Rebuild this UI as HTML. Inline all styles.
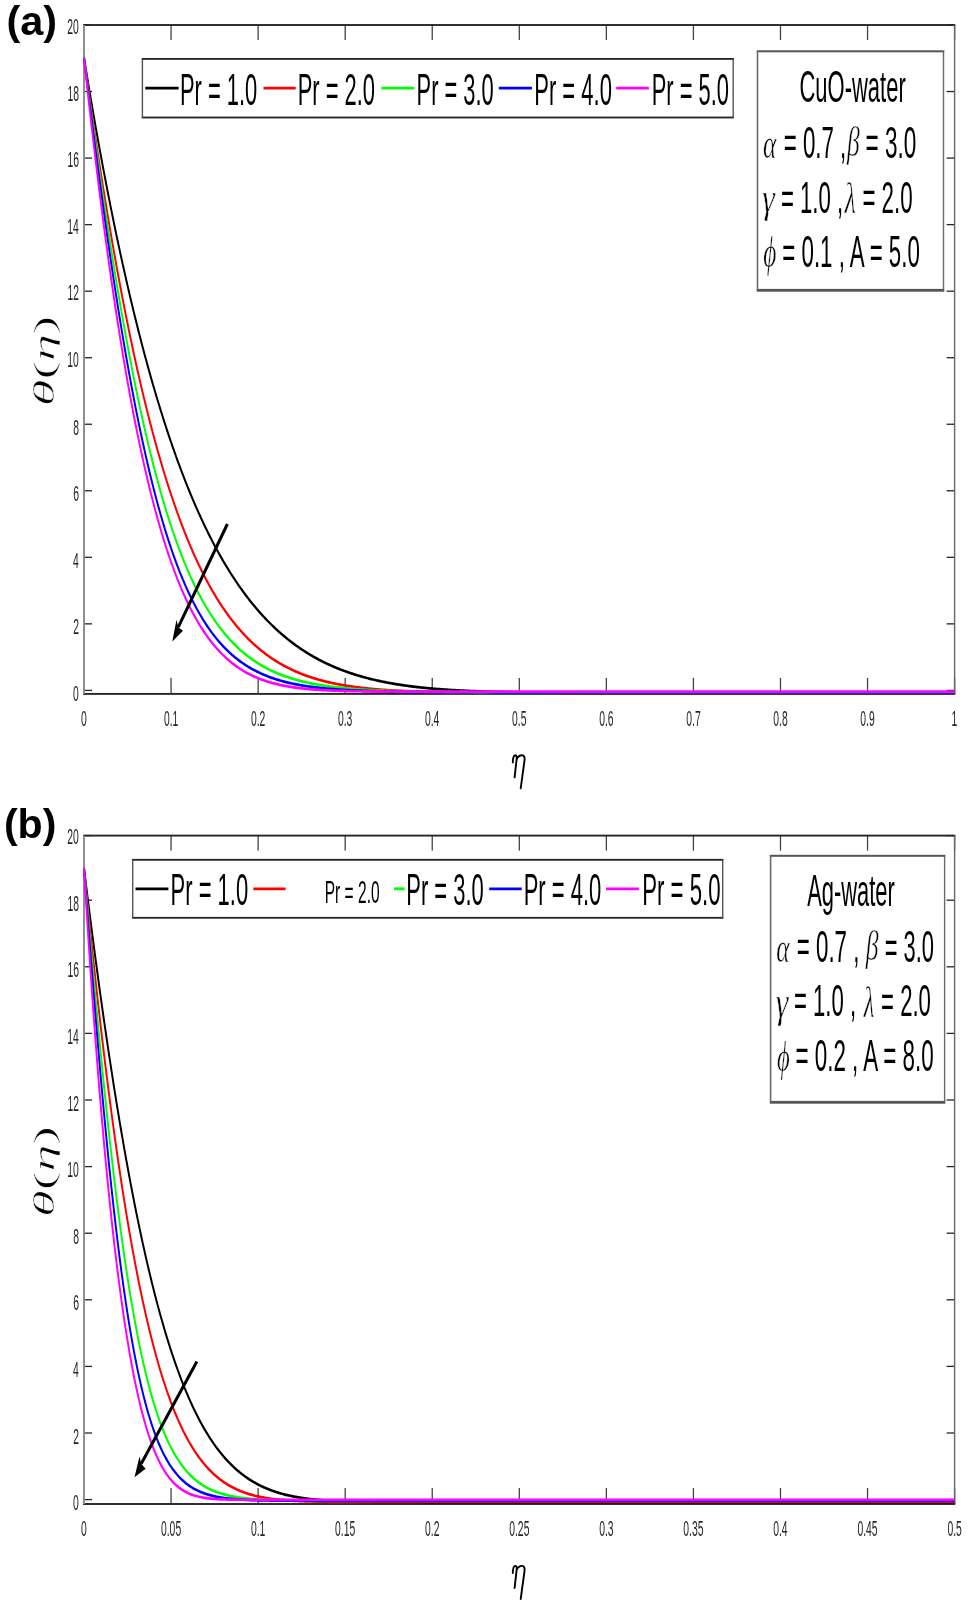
<!DOCTYPE html><html><head><meta charset="utf-8"><style>html,body{margin:0;padding:0;background:#fff}svg{display:block;filter:blur(0.45px)}</style></head><body>
<svg width="968" height="1606" viewBox="0 0 968 1606">
<rect width="968" height="1606" fill="#fff"/>
<rect x="84.00" y="689.75" width="8.00" height="1.30" fill="#262626"/>
<rect x="946.60" y="689.75" width="8.00" height="1.30" fill="#262626"/>
<rect x="84.00" y="623.21" width="8.00" height="1.30" fill="#262626"/>
<rect x="946.60" y="623.21" width="8.00" height="1.30" fill="#262626"/>
<rect x="84.00" y="556.67" width="8.00" height="1.30" fill="#262626"/>
<rect x="946.60" y="556.67" width="8.00" height="1.30" fill="#262626"/>
<rect x="84.00" y="490.13" width="8.00" height="1.30" fill="#262626"/>
<rect x="946.60" y="490.13" width="8.00" height="1.30" fill="#262626"/>
<rect x="84.00" y="423.59" width="8.00" height="1.30" fill="#262626"/>
<rect x="946.60" y="423.59" width="8.00" height="1.30" fill="#262626"/>
<rect x="84.00" y="357.05" width="8.00" height="1.30" fill="#262626"/>
<rect x="946.60" y="357.05" width="8.00" height="1.30" fill="#262626"/>
<rect x="84.00" y="290.51" width="8.00" height="1.30" fill="#262626"/>
<rect x="946.60" y="290.51" width="8.00" height="1.30" fill="#262626"/>
<rect x="84.00" y="223.97" width="8.00" height="1.30" fill="#262626"/>
<rect x="946.60" y="223.97" width="8.00" height="1.30" fill="#262626"/>
<rect x="84.00" y="157.43" width="8.00" height="1.30" fill="#262626"/>
<rect x="946.60" y="157.43" width="8.00" height="1.30" fill="#262626"/>
<rect x="84.00" y="90.89" width="8.00" height="1.30" fill="#262626"/>
<rect x="946.60" y="90.89" width="8.00" height="1.30" fill="#262626"/>
<rect x="84.00" y="24.35" width="8.00" height="1.30" fill="#262626"/>
<rect x="946.60" y="24.35" width="8.00" height="1.30" fill="#262626"/>
<rect x="83.35" y="677.90" width="1.30" height="16.00" fill="#444"/>
<rect x="83.35" y="25.00" width="1.30" height="15.00" fill="#444"/>
<rect x="170.41" y="677.90" width="1.30" height="16.00" fill="#444"/>
<rect x="170.41" y="25.00" width="1.30" height="15.00" fill="#444"/>
<rect x="257.47" y="677.90" width="1.30" height="16.00" fill="#444"/>
<rect x="257.47" y="25.00" width="1.30" height="15.00" fill="#444"/>
<rect x="344.53" y="677.90" width="1.30" height="16.00" fill="#444"/>
<rect x="344.53" y="25.00" width="1.30" height="15.00" fill="#444"/>
<rect x="431.59" y="677.90" width="1.30" height="16.00" fill="#444"/>
<rect x="431.59" y="25.00" width="1.30" height="15.00" fill="#444"/>
<rect x="518.65" y="677.90" width="1.30" height="16.00" fill="#444"/>
<rect x="518.65" y="25.00" width="1.30" height="15.00" fill="#444"/>
<rect x="605.71" y="677.90" width="1.30" height="16.00" fill="#444"/>
<rect x="605.71" y="25.00" width="1.30" height="15.00" fill="#444"/>
<rect x="692.77" y="677.90" width="1.30" height="16.00" fill="#444"/>
<rect x="692.77" y="25.00" width="1.30" height="15.00" fill="#444"/>
<rect x="779.83" y="677.90" width="1.30" height="16.00" fill="#444"/>
<rect x="779.83" y="25.00" width="1.30" height="15.00" fill="#444"/>
<rect x="866.89" y="677.90" width="1.30" height="16.00" fill="#444"/>
<rect x="866.89" y="25.00" width="1.30" height="15.00" fill="#444"/>
<rect x="953.95" y="677.90" width="1.30" height="16.00" fill="#444"/>
<rect x="953.95" y="25.00" width="1.30" height="15.00" fill="#444"/>
<rect x="83.00" y="24.05" width="872.30" height="1.90" fill="#262626"/>
<rect x="83.00" y="692.95" width="872.30" height="1.90" fill="#262626"/>
<rect x="83.00" y="25.00" width="2" height="668.90" fill="#8e8e8e"/>
<rect x="953.90" y="25.00" width="1.4" height="668.90" fill="#666"/>
<text transform="translate(73.11,700.96) scale(0.4800,1)" font-size="21.60" font-family='"Liberation Sans", sans-serif' fill="#262626">0</text>
<text transform="translate(73.26,634.42) scale(0.4800,1)" font-size="21.60" font-family='"Liberation Sans", sans-serif' fill="#262626">2</text>
<text transform="translate(73.06,567.88) scale(0.4800,1)" font-size="21.60" font-family='"Liberation Sans", sans-serif' fill="#262626">4</text>
<text transform="translate(73.16,501.34) scale(0.4800,1)" font-size="21.60" font-family='"Liberation Sans", sans-serif' fill="#262626">6</text>
<text transform="translate(73.16,434.80) scale(0.4800,1)" font-size="21.60" font-family='"Liberation Sans", sans-serif' fill="#262626">8</text>
<text transform="translate(67.35,366.71) scale(0.4800,1)" font-size="21.60" font-family='"Liberation Sans", sans-serif' fill="#262626">10</text>
<text transform="translate(67.51,300.17) scale(0.4800,1)" font-size="21.60" font-family='"Liberation Sans", sans-serif' fill="#262626">12</text>
<text transform="translate(67.30,233.63) scale(0.4800,1)" font-size="21.60" font-family='"Liberation Sans", sans-serif' fill="#262626">14</text>
<text transform="translate(67.41,167.09) scale(0.4800,1)" font-size="21.60" font-family='"Liberation Sans", sans-serif' fill="#262626">16</text>
<text transform="translate(67.41,100.55) scale(0.4800,1)" font-size="21.60" font-family='"Liberation Sans", sans-serif' fill="#262626">18</text>
<text transform="translate(67.35,34.01) scale(0.4800,1)" font-size="21.60" font-family='"Liberation Sans", sans-serif' fill="#262626">20</text>
<text transform="translate(81.10,725.62) scale(0.4800,1)" font-size="21.60" font-family='"Liberation Sans", sans-serif' fill="#262626">0</text>
<text transform="translate(163.88,725.62) scale(0.4800,1)" font-size="21.60" font-family='"Liberation Sans", sans-serif' fill="#262626">0.1</text>
<text transform="translate(250.97,725.62) scale(0.4800,1)" font-size="21.60" font-family='"Liberation Sans", sans-serif' fill="#262626">0.2</text>
<text transform="translate(337.97,725.62) scale(0.4800,1)" font-size="21.60" font-family='"Liberation Sans", sans-serif' fill="#262626">0.3</text>
<text transform="translate(424.98,725.62) scale(0.4800,1)" font-size="21.60" font-family='"Liberation Sans", sans-serif' fill="#262626">0.4</text>
<text transform="translate(512.09,725.62) scale(0.4800,1)" font-size="21.60" font-family='"Liberation Sans", sans-serif' fill="#262626">0.5</text>
<text transform="translate(599.15,725.62) scale(0.4800,1)" font-size="21.60" font-family='"Liberation Sans", sans-serif' fill="#262626">0.6</text>
<text transform="translate(686.27,725.62) scale(0.4800,1)" font-size="21.60" font-family='"Liberation Sans", sans-serif' fill="#262626">0.7</text>
<text transform="translate(773.27,725.62) scale(0.4800,1)" font-size="21.60" font-family='"Liberation Sans", sans-serif' fill="#262626">0.8</text>
<text transform="translate(860.36,725.62) scale(0.4800,1)" font-size="21.60" font-family='"Liberation Sans", sans-serif' fill="#262626">0.9</text>
<text transform="translate(951.57,725.62) scale(0.4800,1)" font-size="21.60" font-family='"Liberation Sans", sans-serif' fill="#262626">1</text>
<g transform="scale(0.72,1)" fill="none" stroke-width="2.7" stroke-linejoin="round" stroke-linecap="butt">
<path d="M116.67,57.70 L117.36,60.80 L118.06,63.88 L118.75,66.96 L119.44,70.02 L120.14,73.07 L120.83,76.11 L121.53,79.13 L122.22,82.15 L122.92,85.15 L123.61,88.14 L124.31,91.12 L125.00,94.09 L125.69,97.04 L126.39,99.98 L127.08,102.92 L127.78,105.84 L128.47,108.75 L129.17,111.64 L129.86,114.53 L130.56,117.40 L131.25,120.26 L131.94,123.11 L132.64,125.95 L133.33,128.78 L134.03,131.60 L134.72,134.41 L135.42,137.20 L136.11,139.98 L136.81,142.75 L137.50,145.51 L138.19,148.26 L138.89,151.00 L139.58,153.73 L140.28,156.45 L140.97,159.15 L141.67,161.85 L142.36,164.53 L143.06,167.20 L143.75,169.86 L144.44,172.51 L145.14,175.15 L145.83,177.78 L146.53,180.40 L147.22,183.01 L147.92,185.61 L148.61,188.19 L149.31,190.77 L150.00,193.33 L150.69,195.89 L151.39,198.43 L152.08,200.97 L152.78,203.49 L153.47,206.00 L154.17,208.50 L154.86,211.00 L155.56,213.48 L156.25,215.95 L156.94,218.41 L157.64,220.86 L158.33,223.30 L159.03,225.73 L159.72,228.15 L160.42,230.56 L161.11,232.96 L161.81,235.35 L162.50,237.73 L163.19,240.10 L163.89,242.46 L164.58,244.81 L165.28,247.15 L165.97,249.48 L166.67,251.80 L167.36,254.11 L168.06,256.41 L168.75,258.70 L169.44,260.98 L170.14,263.25 L170.83,265.52 L171.53,267.77 L172.22,270.01 L172.92,272.24 L173.61,274.47 L174.31,276.68 L175.00,278.88 L175.69,281.08 L176.39,283.27 L177.08,285.44 L177.78,287.61 L178.47,289.77 L179.17,291.91 L179.86,294.05 L180.56,296.18 L181.25,298.30 L181.94,300.41 L182.64,302.52 L183.33,304.61 L184.03,306.69 L184.72,308.77 L185.42,310.83 L186.11,312.89 L186.81,314.94 L187.50,316.97 L188.19,319.00 L188.89,321.02 L189.58,323.04 L190.28,325.04 L190.97,327.03 L191.67,329.02 L192.36,331.00 L193.06,332.96 L193.75,334.92 L194.44,336.87 L195.14,338.82 L195.83,340.75 L196.53,342.67 L197.22,344.59 L197.92,346.50 L198.61,348.40 L199.31,350.29 L200.00,352.17 L201.39,355.91 L202.78,359.61 L204.17,363.29 L205.56,366.92 L206.94,370.53 L208.33,374.10 L209.72,377.65 L211.11,381.16 L212.50,384.63 L213.89,388.08 L215.28,391.49 L216.67,394.87 L218.06,398.23 L219.44,401.55 L220.83,404.84 L222.22,408.10 L223.61,411.33 L225.00,414.52 L226.39,417.69 L227.78,420.83 L229.17,423.94 L230.56,427.02 L231.94,430.08 L233.33,433.10 L234.72,436.09 L236.11,439.06 L237.50,442.00 L238.89,444.91 L240.28,447.79 L241.67,450.65 L243.06,453.47 L244.44,456.27 L245.83,459.05 L247.22,461.79 L248.61,464.51 L250.00,467.20 L251.39,469.87 L252.78,472.51 L254.17,475.13 L255.56,477.72 L256.94,480.28 L258.33,482.82 L259.72,485.33 L261.11,487.82 L262.50,490.28 L263.89,492.72 L265.28,495.14 L266.67,497.53 L268.06,499.89 L269.44,502.24 L270.83,504.56 L272.22,506.85 L273.61,509.12 L275.00,511.37 L276.39,513.60 L277.78,515.80 L279.17,517.98 L280.56,520.14 L281.94,522.28 L283.33,524.39 L284.72,526.49 L286.11,528.56 L287.50,530.61 L288.89,532.64 L290.28,534.64 L291.67,536.63 L293.06,538.59 L294.44,540.54 L295.83,542.46 L297.22,544.37 L298.61,546.25 L300.00,548.11 L301.39,549.96 L302.78,551.78 L304.17,553.59 L305.56,555.37 L306.94,557.14 L308.33,558.88 L309.72,560.61 L311.11,562.32 L312.50,564.01 L313.89,565.68 L315.28,567.34 L316.67,568.97 L318.06,570.59 L319.44,572.19 L320.83,573.77 L322.22,575.34 L323.61,576.89 L325.00,578.42 L326.39,579.93 L327.78,581.43 L329.17,582.91 L330.56,584.37 L331.94,585.82 L333.33,587.25 L334.72,588.66 L336.11,590.06 L337.50,591.44 L338.89,592.81 L340.28,594.16 L341.67,595.50 L343.06,596.82 L344.44,598.12 L345.83,599.41 L347.22,600.69 L348.61,601.95 L350.00,603.20 L351.39,604.43 L352.78,605.64 L354.17,606.85 L355.56,608.04 L356.94,609.21 L358.33,610.37 L359.72,611.52 L361.11,612.65 L362.50,613.77 L363.89,614.88 L365.28,615.97 L366.67,617.05 L368.06,618.12 L369.44,619.18 L370.83,620.22 L372.22,621.25 L373.61,622.27 L375.00,623.27 L376.39,624.26 L377.78,625.24 L379.17,626.21 L380.56,627.17 L381.94,628.11 L383.33,629.05 L384.72,629.97 L386.11,630.88 L387.50,631.78 L388.89,632.67 L390.28,633.54 L391.67,634.41 L393.06,635.26 L394.44,636.11 L395.83,636.94 L397.22,637.76 L398.61,638.58 L400.00,639.38 L401.39,640.17 L402.78,640.95 L404.17,641.73 L405.56,642.49 L406.94,643.24 L408.33,643.98 L409.72,644.72 L411.11,645.44 L412.50,646.15 L413.89,646.86 L415.28,647.56 L416.67,648.24 L418.06,648.92 L419.44,649.59 L420.83,650.25 L422.22,650.90 L423.61,651.54 L425.00,652.18 L426.39,652.80 L427.78,653.42 L429.17,654.03 L430.56,654.63 L431.94,655.22 L433.33,655.81 L434.72,656.39 L436.11,656.96 L437.50,657.52 L438.89,658.07 L440.28,658.62 L441.67,659.16 L443.06,659.69 L444.44,660.21 L445.83,660.73 L447.22,661.24 L448.61,661.75 L450.00,662.24 L451.39,662.73 L452.78,663.21 L454.17,663.69 L455.56,664.16 L456.94,664.62 L458.33,665.08 L459.72,665.53 L461.11,665.97 L462.50,666.41 L463.89,666.84 L465.28,667.26 L466.67,667.68 L468.06,668.09 L469.44,668.50 L470.83,668.90 L472.22,669.30 L473.61,669.69 L475.00,670.07 L476.39,670.45 L477.78,670.82 L479.17,671.19 L480.56,671.55 L481.94,671.91 L483.33,672.26 L484.72,672.61 L486.11,672.95 L487.50,673.29 L488.89,673.62 L490.28,673.94 L491.67,674.26 L493.06,674.58 L494.44,674.89 L495.83,675.20 L497.22,675.50 L498.61,675.80 L500.00,676.10 L501.39,676.39 L502.78,676.67 L504.17,676.95 L505.56,677.23 L506.94,677.50 L508.33,677.77 L509.72,678.03 L511.11,678.29 L512.50,678.55 L513.89,678.80 L515.28,679.05 L516.67,679.29 L518.06,679.53 L519.44,679.77 L520.83,680.00 L522.22,680.23 L523.61,680.46 L525.00,680.68 L526.39,680.90 L527.78,681.11 L529.17,681.32 L530.56,681.53 L531.94,681.74 L533.33,681.94 L534.72,682.14 L536.11,682.33 L537.50,682.53 L538.89,682.72 L540.28,682.90 L541.67,683.08 L543.06,683.27 L544.44,683.44 L545.83,683.62 L547.22,683.79 L548.61,683.96 L550.00,684.12 L551.39,684.29 L552.78,684.45 L554.17,684.61 L555.56,684.76 L556.94,684.91 L558.33,685.06 L559.72,685.21 L561.11,685.36 L562.50,685.50 L563.89,685.64 L565.28,685.78 L566.67,685.91 L568.06,686.05 L569.44,686.18 L570.83,686.31 L572.22,686.43 L573.61,686.56 L575.00,686.68 L576.39,686.80 L577.78,686.92 L579.17,687.04 L580.56,687.15 L581.94,687.26 L583.33,687.37 L584.72,687.48 L586.11,687.59 L587.50,687.69 L588.89,687.80 L590.28,687.90 L591.67,688.00 L593.06,688.10 L594.44,688.19 L595.83,688.29 L597.22,688.38 L598.61,688.47 L600.00,688.56 L601.39,688.65 L602.78,688.73 L604.17,688.82 L605.56,688.90 L606.94,688.98 L608.33,689.06 L609.72,689.14 L611.11,689.22 L612.50,689.29 L613.89,689.37 L615.28,689.44 L616.67,689.51 L618.06,689.58 L619.44,689.65 L620.83,689.72 L622.22,689.79 L623.61,689.85 L625.00,689.92 L626.39,689.98 L627.78,690.04 L629.17,690.10 L630.56,690.16 L631.94,690.22 L633.33,690.28 L634.72,690.33 L636.11,690.39 L637.50,690.44 L638.89,690.50 L640.28,690.55 L641.67,690.60 L643.06,690.65 L644.44,690.70 L645.83,690.75 L647.22,690.80 L648.61,690.84 L650.00,690.89 L651.39,690.93 L652.78,690.98 L654.17,691.02 L655.56,691.06 L656.94,691.10 L658.33,691.14 L659.72,691.18 L661.11,691.22 L662.50,691.26 L663.89,691.30 L665.28,691.33 L666.67,691.37 L668.06,691.41 L669.44,691.44 L670.83,691.47 L672.22,691.51 L688.98,691.86 L705.74,692.13 L722.50,692.35 L739.26,692.51 L756.02,692.64 L772.78,692.73 L789.54,692.80 L806.30,692.86 L823.06,692.90 L839.81,692.92 L856.57,692.95 L873.33,692.96 L890.09,692.97 L906.85,692.98 L923.61,692.99 L940.37,692.99 L957.13,692.99 L973.89,693.00 L990.65,693.00 L1007.41,693.00 L1024.17,693.00 L1040.93,693.00 L1057.69,693.00 L1074.44,693.00 L1091.20,693.00 L1107.96,693.00 L1124.72,693.00 L1141.48,693.00 L1158.24,693.00 L1175.00,693.00 L1191.76,693.00 L1208.52,693.00 L1225.28,693.00 L1242.04,693.00 L1258.80,693.00 L1275.56,693.00 L1292.31,693.00 L1309.07,693.00 L1325.83,693.00" stroke="#000000"/>
<path d="M116.67,57.70 L117.36,61.36 L118.06,65.01 L118.75,68.64 L119.44,72.26 L120.14,75.86 L120.83,79.45 L121.53,83.03 L122.22,86.58 L122.92,90.13 L123.61,93.66 L124.31,97.18 L125.00,100.68 L125.69,104.16 L126.39,107.64 L127.08,111.09 L127.78,114.54 L128.47,117.97 L129.17,121.38 L129.86,124.78 L130.56,128.17 L131.25,131.54 L131.94,134.90 L132.64,138.24 L133.33,141.57 L134.03,144.88 L134.72,148.18 L135.42,151.47 L136.11,154.74 L136.81,158.00 L137.50,161.24 L138.19,164.47 L138.89,167.68 L139.58,170.88 L140.28,174.07 L140.97,177.24 L141.67,180.40 L142.36,183.54 L143.06,186.67 L143.75,189.79 L144.44,192.89 L145.14,195.98 L145.83,199.06 L146.53,202.12 L147.22,205.16 L147.92,208.19 L148.61,211.21 L149.31,214.22 L150.00,217.21 L150.69,220.19 L151.39,223.15 L152.08,226.10 L152.78,229.04 L153.47,231.96 L154.17,234.87 L154.86,237.76 L155.56,240.64 L156.25,243.51 L156.94,246.37 L157.64,249.21 L158.33,252.03 L159.03,254.85 L159.72,257.65 L160.42,260.44 L161.11,263.21 L161.81,265.97 L162.50,268.72 L163.19,271.45 L163.89,274.17 L164.58,276.88 L165.28,279.57 L165.97,282.25 L166.67,284.92 L167.36,287.58 L168.06,290.22 L168.75,292.85 L169.44,295.46 L170.14,298.07 L170.83,300.66 L171.53,303.23 L172.22,305.80 L172.92,308.35 L173.61,310.89 L174.31,313.41 L175.00,315.92 L175.69,318.42 L176.39,320.91 L177.08,323.39 L177.78,325.85 L178.47,328.30 L179.17,330.73 L179.86,333.16 L180.56,335.57 L181.25,337.97 L181.94,340.36 L182.64,342.73 L183.33,345.09 L184.03,347.44 L184.72,349.78 L185.42,352.11 L186.11,354.42 L186.81,356.72 L187.50,359.01 L188.19,361.29 L188.89,363.55 L189.58,365.80 L190.28,368.04 L190.97,370.27 L191.67,372.49 L192.36,374.69 L193.06,376.89 L193.75,379.07 L194.44,381.24 L195.14,383.40 L195.83,385.54 L196.53,387.68 L197.22,389.80 L197.92,391.91 L198.61,394.01 L199.31,396.10 L200.00,398.17 L201.39,402.29 L202.78,406.37 L204.17,410.39 L205.56,414.38 L206.94,418.31 L208.33,422.21 L209.72,426.06 L211.11,429.87 L212.50,433.63 L213.89,437.35 L215.28,441.03 L216.67,444.66 L218.06,448.25 L219.44,451.80 L220.83,455.31 L222.22,458.78 L223.61,462.21 L225.00,465.60 L226.39,468.94 L227.78,472.25 L229.17,475.52 L230.56,478.74 L231.94,481.93 L233.33,485.08 L234.72,488.19 L236.11,491.27 L237.50,494.30 L238.89,497.30 L240.28,500.26 L241.67,503.19 L243.06,506.07 L244.44,508.93 L245.83,511.74 L247.22,514.52 L248.61,517.27 L250.00,519.98 L251.39,522.65 L252.78,525.30 L254.17,527.90 L255.56,530.48 L256.94,533.02 L258.33,535.52 L259.72,538.00 L261.11,540.44 L262.50,542.85 L263.89,545.23 L265.28,547.58 L266.67,549.89 L268.06,552.18 L269.44,554.43 L270.83,556.65 L272.22,558.85 L273.61,561.01 L275.00,563.15 L276.39,565.25 L277.78,567.33 L279.17,569.38 L280.56,571.40 L281.94,573.39 L283.33,575.35 L284.72,577.29 L286.11,579.20 L287.50,581.08 L288.89,582.94 L290.28,584.77 L291.67,586.58 L293.06,588.36 L294.44,590.11 L295.83,591.84 L297.22,593.54 L298.61,595.22 L300.00,596.88 L301.39,598.51 L302.78,600.11 L304.17,601.70 L305.56,603.26 L306.94,604.80 L308.33,606.31 L309.72,607.80 L311.11,609.27 L312.50,610.72 L313.89,612.15 L315.28,613.55 L316.67,614.94 L318.06,616.30 L319.44,617.64 L320.83,618.97 L322.22,620.27 L323.61,621.55 L325.00,622.81 L326.39,624.06 L327.78,625.28 L329.17,626.49 L330.56,627.67 L331.94,628.84 L333.33,629.99 L334.72,631.12 L336.11,632.24 L337.50,633.34 L338.89,634.41 L340.28,635.48 L341.67,636.52 L343.06,637.55 L344.44,638.56 L345.83,639.56 L347.22,640.54 L348.61,641.50 L350.00,642.45 L351.39,643.39 L352.78,644.30 L354.17,645.21 L355.56,646.10 L356.94,646.97 L358.33,647.83 L359.72,648.67 L361.11,649.50 L362.50,650.32 L363.89,651.13 L365.28,651.92 L366.67,652.69 L368.06,653.46 L369.44,654.21 L370.83,654.95 L372.22,655.67 L373.61,656.39 L375.00,657.09 L376.39,657.78 L377.78,658.46 L379.17,659.12 L380.56,659.78 L381.94,660.42 L383.33,661.05 L384.72,661.67 L386.11,662.28 L387.50,662.88 L388.89,663.47 L390.28,664.05 L391.67,664.62 L393.06,665.18 L394.44,665.73 L395.83,666.27 L397.22,666.80 L398.61,667.32 L400.00,667.83 L401.39,668.33 L402.78,668.82 L404.17,669.31 L405.56,669.78 L406.94,670.25 L408.33,670.70 L409.72,671.15 L411.11,671.60 L412.50,672.03 L413.89,672.45 L415.28,672.87 L416.67,673.28 L418.06,673.68 L419.44,674.08 L420.83,674.47 L422.22,674.85 L423.61,675.22 L425.00,675.59 L426.39,675.94 L427.78,676.30 L429.17,676.64 L430.56,676.98 L431.94,677.31 L433.33,677.64 L434.72,677.96 L436.11,678.28 L437.50,678.58 L438.89,678.89 L440.28,679.18 L441.67,679.47 L443.06,679.76 L444.44,680.04 L445.83,680.31 L447.22,680.58 L448.61,680.84 L450.00,681.10 L451.39,681.36 L452.78,681.60 L454.17,681.85 L455.56,682.09 L456.94,682.32 L458.33,682.55 L459.72,682.77 L461.11,682.99 L462.50,683.21 L463.89,683.42 L465.28,683.63 L466.67,683.83 L468.06,684.03 L469.44,684.22 L470.83,684.42 L472.22,684.60 L473.61,684.79 L475.00,684.97 L476.39,685.14 L477.78,685.31 L479.17,685.48 L480.56,685.65 L481.94,685.81 L483.33,685.97 L484.72,686.12 L486.11,686.27 L487.50,686.42 L488.89,686.57 L490.28,686.71 L491.67,686.85 L493.06,686.99 L494.44,687.12 L495.83,687.25 L497.22,687.38 L498.61,687.51 L500.00,687.63 L501.39,687.75 L502.78,687.87 L504.17,687.98 L505.56,688.09 L506.94,688.20 L508.33,688.31 L509.72,688.42 L511.11,688.52 L512.50,688.62 L513.89,688.72 L515.28,688.82 L516.67,688.91 L518.06,689.00 L519.44,689.09 L520.83,689.18 L522.22,689.27 L523.61,689.35 L525.00,689.44 L526.39,689.52 L527.78,689.60 L529.17,689.67 L530.56,689.75 L531.94,689.82 L533.33,689.89 L534.72,689.97 L536.11,690.03 L537.50,690.10 L538.89,690.17 L540.28,690.23 L541.67,690.30 L543.06,690.36 L544.44,690.42 L545.83,690.48 L547.22,690.53 L548.61,690.59 L550.00,690.64 L551.39,690.70 L552.78,690.75 L554.17,690.80 L555.56,690.85 L556.94,690.90 L558.33,690.95 L559.72,690.99 L561.11,691.04 L562.50,691.08 L563.89,691.13 L565.28,691.17 L566.67,691.21 L568.06,691.25 L569.44,691.29 L570.83,691.33 L572.22,691.37 L573.61,691.40 L575.00,691.44 L576.39,691.47 L577.78,691.51 L579.17,691.54 L580.56,691.57 L581.94,691.60 L583.33,691.64 L584.72,691.67 L586.11,691.70 L587.50,691.72 L588.89,691.75 L590.28,691.78 L591.67,691.81 L593.06,691.83 L594.44,691.86 L595.83,691.88 L597.22,691.91 L598.61,691.93 L600.00,691.95 L601.39,691.98 L602.78,692.00 L604.17,692.02 L605.56,692.04 L606.94,692.06 L608.33,692.08 L609.72,692.10 L611.11,692.12 L612.50,692.14 L613.89,692.15 L615.28,692.17 L616.67,692.19 L618.06,692.20 L619.44,692.22 L620.83,692.24 L622.22,692.25 L623.61,692.27 L625.00,692.28 L626.39,692.29 L627.78,692.31 L629.17,692.32 L630.56,692.34 L631.94,692.35 L633.33,692.36 L634.72,692.37 L636.11,692.38 L637.50,692.40 L638.89,692.41 L640.28,692.42 L641.67,692.43 L643.06,692.44 L644.44,692.45 L645.83,692.46 L647.22,692.47 L648.61,692.48 L650.00,692.49 L651.39,692.50 L652.78,692.50 L654.17,692.51 L655.56,692.52 L656.94,692.53 L658.33,692.54 L659.72,692.54 L661.11,692.55 L662.50,692.56 L663.89,692.56 L665.28,692.57 L666.67,692.58 L668.06,692.58 L669.44,692.59 L670.83,692.60 L672.22,692.60 L688.98,692.66 L705.74,692.70 L722.50,692.73 L739.26,692.75 L756.02,692.77 L772.78,692.78 L789.54,692.79 L806.30,692.79 L823.06,692.79 L839.81,692.80 L856.57,692.80 L873.33,692.80 L890.09,692.80 L906.85,692.80 L923.61,692.80 L940.37,692.80 L957.13,692.80 L973.89,692.80 L990.65,692.80 L1007.41,692.80 L1024.17,692.80 L1040.93,692.80 L1057.69,692.80 L1074.44,692.80 L1091.20,692.80 L1107.96,692.80 L1124.72,692.80 L1141.48,692.80 L1158.24,692.80 L1175.00,692.80 L1191.76,692.80 L1208.52,692.80 L1225.28,692.80 L1242.04,692.80 L1258.80,692.80 L1275.56,692.80 L1292.31,692.80 L1309.07,692.80 L1325.83,692.80" stroke="#ff0000"/>
<path d="M116.67,57.70 L117.36,61.55 L118.06,65.38 L118.75,69.21 L119.44,73.03 L120.14,76.83 L120.83,80.63 L121.53,84.42 L122.22,88.19 L122.92,91.95 L123.61,95.71 L124.31,99.45 L125.00,103.18 L125.69,106.89 L126.39,110.60 L127.08,114.30 L127.78,117.98 L128.47,121.65 L129.17,125.31 L129.86,128.96 L130.56,132.60 L131.25,136.22 L131.94,139.83 L132.64,143.43 L133.33,147.02 L134.03,150.59 L134.72,154.15 L135.42,157.70 L136.11,161.24 L136.81,164.76 L137.50,168.27 L138.19,171.77 L138.89,175.25 L139.58,178.72 L140.28,182.18 L140.97,185.62 L141.67,189.06 L142.36,192.47 L143.06,195.88 L143.75,199.27 L144.44,202.64 L145.14,206.01 L145.83,209.36 L146.53,212.69 L147.22,216.01 L147.92,219.32 L148.61,222.61 L149.31,225.89 L150.00,229.16 L150.69,232.41 L151.39,235.65 L152.08,238.87 L152.78,242.08 L153.47,245.27 L154.17,248.46 L154.86,251.62 L155.56,254.77 L156.25,257.91 L156.94,261.03 L157.64,264.14 L158.33,267.23 L159.03,270.31 L159.72,273.38 L160.42,276.43 L161.11,279.46 L161.81,282.48 L162.50,285.49 L163.19,288.48 L163.89,291.46 L164.58,294.42 L165.28,297.37 L165.97,300.30 L166.67,303.22 L167.36,306.12 L168.06,309.01 L168.75,311.88 L169.44,314.74 L170.14,317.58 L170.83,320.41 L171.53,323.22 L172.22,326.02 L172.92,328.81 L173.61,331.58 L174.31,334.33 L175.00,337.07 L175.69,339.80 L176.39,342.51 L177.08,345.20 L177.78,347.88 L178.47,350.55 L179.17,353.20 L179.86,355.84 L180.56,358.46 L181.25,361.06 L181.94,363.65 L182.64,366.23 L183.33,368.79 L184.03,371.34 L184.72,373.87 L185.42,376.39 L186.11,378.90 L186.81,381.39 L187.50,383.86 L188.19,386.32 L188.89,388.76 L189.58,391.19 L190.28,393.61 L190.97,396.01 L191.67,398.40 L192.36,400.77 L193.06,403.13 L193.75,405.47 L194.44,407.80 L195.14,410.12 L195.83,412.42 L196.53,414.70 L197.22,416.98 L197.92,419.23 L198.61,421.48 L199.31,423.71 L200.00,425.92 L201.39,430.31 L202.78,434.64 L204.17,438.92 L205.56,443.14 L206.94,447.31 L208.33,451.42 L209.72,455.47 L211.11,459.48 L212.50,463.43 L213.89,467.32 L215.28,471.16 L216.67,474.95 L218.06,478.69 L219.44,482.37 L220.83,486.01 L222.22,489.59 L223.61,493.12 L225.00,496.60 L226.39,500.03 L227.78,503.42 L229.17,506.75 L230.56,510.03 L231.94,513.27 L233.33,516.46 L234.72,519.60 L236.11,522.69 L237.50,525.74 L238.89,528.74 L240.28,531.70 L241.67,534.61 L243.06,537.48 L244.44,540.30 L245.83,543.08 L247.22,545.81 L248.61,548.51 L250.00,551.16 L251.39,553.77 L252.78,556.33 L254.17,558.86 L255.56,561.34 L256.94,563.79 L258.33,566.20 L259.72,568.56 L261.11,570.89 L262.50,573.18 L263.89,575.44 L265.28,577.65 L266.67,579.83 L268.06,581.97 L269.44,584.08 L270.83,586.15 L272.22,588.19 L273.61,590.19 L275.00,592.16 L276.39,594.09 L277.78,596.00 L279.17,597.87 L280.56,599.70 L281.94,601.51 L283.33,603.28 L284.72,605.02 L286.11,606.73 L287.50,608.42 L288.89,610.07 L290.28,611.69 L291.67,613.29 L293.06,614.85 L294.44,616.39 L295.83,617.90 L297.22,619.38 L298.61,620.84 L300.00,622.27 L301.39,623.67 L302.78,625.05 L304.17,626.41 L305.56,627.74 L306.94,629.04 L308.33,630.32 L309.72,631.58 L311.11,632.81 L312.50,634.02 L313.89,635.21 L315.28,636.37 L316.67,637.52 L318.06,638.64 L319.44,639.74 L320.83,640.82 L322.22,641.88 L323.61,642.92 L325.00,643.94 L326.39,644.94 L327.78,645.92 L329.17,646.88 L330.56,647.82 L331.94,648.75 L333.33,649.66 L334.72,650.55 L336.11,651.42 L337.50,652.28 L338.89,653.11 L340.28,653.94 L341.67,654.74 L343.06,655.53 L344.44,656.31 L345.83,657.07 L347.22,657.81 L348.61,658.54 L350.00,659.26 L351.39,659.96 L352.78,660.65 L354.17,661.32 L355.56,661.98 L356.94,662.63 L358.33,663.26 L359.72,663.88 L361.11,664.49 L362.50,665.08 L363.89,665.67 L365.28,666.24 L366.67,666.80 L368.06,667.35 L369.44,667.89 L370.83,668.41 L372.22,668.93 L373.61,669.43 L375.00,669.93 L376.39,670.41 L377.78,670.89 L379.17,671.35 L380.56,671.81 L381.94,672.25 L383.33,672.69 L384.72,673.12 L386.11,673.54 L387.50,673.95 L388.89,674.35 L390.28,674.74 L391.67,675.13 L393.06,675.50 L394.44,675.87 L395.83,676.23 L397.22,676.59 L398.61,676.93 L400.00,677.27 L401.39,677.60 L402.78,677.93 L404.17,678.24 L405.56,678.56 L406.94,678.86 L408.33,679.16 L409.72,679.45 L411.11,679.73 L412.50,680.01 L413.89,680.29 L415.28,680.55 L416.67,680.81 L418.06,681.07 L419.44,681.32 L420.83,681.57 L422.22,681.81 L423.61,682.04 L425.00,682.27 L426.39,682.50 L427.78,682.72 L429.17,682.93 L430.56,683.14 L431.94,683.35 L433.33,683.55 L434.72,683.74 L436.11,683.94 L437.50,684.13 L438.89,684.31 L440.28,684.49 L441.67,684.67 L443.06,684.84 L444.44,685.01 L445.83,685.17 L447.22,685.34 L448.61,685.49 L450.00,685.65 L451.39,685.80 L452.78,685.95 L454.17,686.09 L455.56,686.23 L456.94,686.37 L458.33,686.51 L459.72,686.64 L461.11,686.77 L462.50,686.90 L463.89,687.02 L465.28,687.14 L466.67,687.26 L468.06,687.38 L469.44,687.49 L470.83,687.60 L472.22,687.71 L473.61,687.81 L475.00,687.92 L476.39,688.02 L477.78,688.12 L479.17,688.22 L480.56,688.31 L481.94,688.40 L483.33,688.49 L484.72,688.58 L486.11,688.67 L487.50,688.75 L488.89,688.84 L490.28,688.92 L491.67,689.00 L493.06,689.08 L494.44,689.15 L495.83,689.23 L497.22,689.30 L498.61,689.37 L500.00,689.44 L501.39,689.51 L502.78,689.57 L504.17,689.64 L505.56,689.70 L506.94,689.76 L508.33,689.82 L509.72,689.88 L511.11,689.94 L512.50,690.00 L513.89,690.05 L515.28,690.11 L516.67,690.16 L518.06,690.21 L519.44,690.26 L520.83,690.31 L522.22,690.36 L523.61,690.41 L525.00,690.45 L526.39,690.50 L527.78,690.54 L529.17,690.59 L530.56,690.63 L531.94,690.67 L533.33,690.71 L534.72,690.75 L536.11,690.79 L537.50,690.83 L538.89,690.86 L540.28,690.90 L541.67,690.94 L543.06,690.97 L544.44,691.00 L545.83,691.04 L547.22,691.07 L548.61,691.10 L550.00,691.13 L551.39,691.16 L552.78,691.19 L554.17,691.22 L555.56,691.25 L556.94,691.28 L558.33,691.30 L559.72,691.33 L561.11,691.36 L562.50,691.38 L563.89,691.41 L565.28,691.43 L566.67,691.46 L568.06,691.48 L569.44,691.50 L570.83,691.52 L572.22,691.55 L573.61,691.57 L575.00,691.59 L576.39,691.61 L577.78,691.63 L579.17,691.65 L580.56,691.67 L581.94,691.68 L583.33,691.70 L584.72,691.72 L586.11,691.74 L587.50,691.76 L588.89,691.77 L590.28,691.79 L591.67,691.80 L593.06,691.82 L594.44,691.84 L595.83,691.85 L597.22,691.86 L598.61,691.88 L600.00,691.89 L601.39,691.91 L602.78,691.92 L604.17,691.93 L605.56,691.95 L606.94,691.96 L608.33,691.97 L609.72,691.98 L611.11,692.00 L612.50,692.01 L613.89,692.02 L615.28,692.03 L616.67,692.04 L618.06,692.05 L619.44,692.06 L620.83,692.07 L622.22,692.08 L623.61,692.09 L625.00,692.10 L626.39,692.11 L627.78,692.12 L629.17,692.13 L630.56,692.14 L631.94,692.14 L633.33,692.15 L634.72,692.16 L636.11,692.17 L637.50,692.18 L638.89,692.18 L640.28,692.19 L641.67,692.20 L643.06,692.21 L644.44,692.21 L645.83,692.22 L647.22,692.23 L648.61,692.23 L650.00,692.24 L651.39,692.25 L652.78,692.25 L654.17,692.26 L655.56,692.27 L656.94,692.27 L658.33,692.28 L659.72,692.28 L661.11,692.29 L662.50,692.29 L663.89,692.30 L665.28,692.30 L666.67,692.31 L668.06,692.31 L669.44,692.32 L670.83,692.32 L672.22,692.33 L688.98,692.38 L705.74,692.42 L722.50,692.45 L739.26,692.47 L756.02,692.49 L772.78,692.50 L789.54,692.52 L806.30,692.53 L823.06,692.53 L839.81,692.54 L856.57,692.54 L873.33,692.55 L890.09,692.55 L906.85,692.55 L923.61,692.55 L940.37,692.55 L957.13,692.55 L973.89,692.55 L990.65,692.55 L1007.41,692.55 L1024.17,692.55 L1040.93,692.55 L1057.69,692.55 L1074.44,692.55 L1091.20,692.55 L1107.96,692.55 L1124.72,692.55 L1141.48,692.55 L1158.24,692.55 L1175.00,692.55 L1191.76,692.55 L1208.52,692.55 L1225.28,692.55 L1242.04,692.55 L1258.80,692.55 L1275.56,692.55 L1292.31,692.55 L1309.07,692.55 L1325.83,692.55" stroke="#00ff00"/>
<path d="M116.67,57.70 L117.36,61.81 L118.06,65.91 L118.75,70.00 L119.44,74.08 L120.14,78.15 L120.83,82.21 L121.53,86.26 L122.22,90.30 L122.92,94.32 L123.61,98.34 L124.31,102.34 L125.00,106.33 L125.69,110.32 L126.39,114.28 L127.08,118.24 L127.78,122.19 L128.47,126.12 L129.17,130.04 L129.86,133.95 L130.56,137.84 L131.25,141.72 L131.94,145.59 L132.64,149.44 L133.33,153.28 L134.03,157.11 L134.72,160.93 L135.42,164.73 L136.11,168.51 L136.81,172.29 L137.50,176.04 L138.19,179.79 L138.89,183.52 L139.58,187.23 L140.28,190.93 L140.97,194.62 L141.67,198.29 L142.36,201.95 L143.06,205.59 L143.75,209.21 L144.44,212.82 L145.14,216.42 L145.83,220.00 L146.53,223.56 L147.22,227.11 L147.92,230.64 L148.61,234.16 L149.31,237.66 L150.00,241.15 L150.69,244.62 L151.39,248.07 L152.08,251.51 L152.78,254.93 L153.47,258.33 L154.17,261.72 L154.86,265.09 L155.56,268.45 L156.25,271.79 L156.94,275.11 L157.64,278.42 L158.33,281.71 L159.03,284.98 L159.72,288.23 L160.42,291.47 L161.11,294.70 L161.81,297.90 L162.50,301.09 L163.19,304.26 L163.89,307.42 L164.58,310.55 L165.28,313.67 L165.97,316.78 L166.67,319.86 L167.36,322.93 L168.06,325.99 L168.75,329.02 L169.44,332.04 L170.14,335.04 L170.83,338.02 L171.53,340.99 L172.22,343.94 L172.92,346.87 L173.61,349.79 L174.31,352.69 L175.00,355.57 L175.69,358.43 L176.39,361.28 L177.08,364.11 L177.78,366.92 L178.47,369.71 L179.17,372.49 L179.86,375.25 L180.56,377.99 L181.25,380.72 L181.94,383.43 L182.64,386.12 L183.33,388.80 L184.03,391.45 L184.72,394.09 L185.42,396.72 L186.11,399.32 L186.81,401.91 L187.50,404.49 L188.19,407.04 L188.89,409.58 L189.58,412.10 L190.28,414.61 L190.97,417.10 L191.67,419.57 L192.36,422.02 L193.06,424.46 L193.75,426.88 L194.44,429.29 L195.14,431.67 L195.83,434.05 L196.53,436.40 L197.22,438.74 L197.92,441.06 L198.61,443.37 L199.31,445.66 L200.00,447.93 L201.39,452.43 L202.78,456.86 L204.17,461.23 L205.56,465.53 L206.94,469.77 L208.33,473.95 L209.72,478.07 L211.11,482.12 L212.50,486.11 L213.89,490.05 L215.28,493.92 L216.67,497.73 L218.06,501.48 L219.44,505.17 L220.83,508.80 L222.22,512.38 L223.61,515.90 L225.00,519.36 L226.39,522.76 L227.78,526.11 L229.17,529.41 L230.56,532.64 L231.94,535.83 L233.33,538.96 L234.72,542.04 L236.11,545.07 L237.50,548.04 L238.89,550.97 L240.28,553.84 L241.67,556.66 L243.06,559.44 L244.44,562.16 L245.83,564.84 L247.22,567.47 L248.61,570.05 L250.00,572.59 L251.39,575.08 L252.78,577.53 L254.17,579.93 L255.56,582.29 L256.94,584.60 L258.33,586.87 L259.72,589.10 L261.11,591.29 L262.50,593.44 L263.89,595.55 L265.28,597.61 L266.67,599.64 L268.06,601.63 L269.44,603.58 L270.83,605.50 L272.22,607.37 L273.61,609.21 L275.00,611.02 L276.39,612.79 L277.78,614.52 L279.17,616.22 L280.56,617.89 L281.94,619.53 L283.33,621.13 L284.72,622.70 L286.11,624.24 L287.50,625.74 L288.89,627.22 L290.28,628.67 L291.67,630.09 L293.06,631.47 L294.44,632.84 L295.83,634.17 L297.22,635.47 L298.61,636.75 L300.00,638.00 L301.39,639.23 L302.78,640.43 L304.17,641.60 L305.56,642.76 L306.94,643.88 L308.33,644.98 L309.72,646.06 L311.11,647.12 L312.50,648.15 L313.89,649.17 L315.28,650.16 L316.67,651.12 L318.06,652.07 L319.44,653.00 L320.83,653.91 L322.22,654.80 L323.61,655.66 L325.00,656.51 L326.39,657.35 L327.78,658.16 L329.17,658.95 L330.56,659.73 L331.94,660.49 L333.33,661.24 L334.72,661.96 L336.11,662.67 L337.50,663.37 L338.89,664.05 L340.28,664.71 L341.67,665.36 L343.06,666.00 L344.44,666.62 L345.83,667.23 L347.22,667.82 L348.61,668.40 L350.00,668.97 L351.39,669.52 L352.78,670.06 L354.17,670.59 L355.56,671.11 L356.94,671.61 L358.33,672.10 L359.72,672.59 L361.11,673.06 L362.50,673.52 L363.89,673.97 L365.28,674.41 L366.67,674.83 L368.06,675.25 L369.44,675.66 L370.83,676.06 L372.22,676.45 L373.61,676.83 L375.00,677.21 L376.39,677.57 L377.78,677.92 L379.17,678.27 L380.56,678.61 L381.94,678.94 L383.33,679.26 L384.72,679.58 L386.11,679.89 L387.50,680.19 L388.89,680.48 L390.28,680.77 L391.67,681.05 L393.06,681.32 L394.44,681.59 L395.83,681.85 L397.22,682.10 L398.61,682.35 L400.00,682.59 L401.39,682.83 L402.78,683.06 L404.17,683.28 L405.56,683.50 L406.94,683.71 L408.33,683.92 L409.72,684.13 L411.11,684.33 L412.50,684.52 L413.89,684.71 L415.28,684.90 L416.67,685.08 L418.06,685.25 L419.44,685.43 L420.83,685.59 L422.22,685.76 L423.61,685.92 L425.00,686.07 L426.39,686.23 L427.78,686.37 L429.17,686.52 L430.56,686.66 L431.94,686.80 L433.33,686.93 L434.72,687.06 L436.11,687.19 L437.50,687.32 L438.89,687.44 L440.28,687.56 L441.67,687.67 L443.06,687.79 L444.44,687.90 L445.83,688.00 L447.22,688.11 L448.61,688.21 L450.00,688.31 L451.39,688.41 L452.78,688.51 L454.17,688.60 L455.56,688.69 L456.94,688.78 L458.33,688.86 L459.72,688.95 L461.11,689.03 L462.50,689.11 L463.89,689.19 L465.28,689.26 L466.67,689.34 L468.06,689.41 L469.44,689.48 L470.83,689.55 L472.22,689.62 L473.61,689.68 L475.00,689.75 L476.39,689.81 L477.78,689.87 L479.17,689.93 L480.56,689.99 L481.94,690.04 L483.33,690.10 L484.72,690.15 L486.11,690.20 L487.50,690.26 L488.89,690.31 L490.28,690.35 L491.67,690.40 L493.06,690.45 L494.44,690.49 L495.83,690.54 L497.22,690.58 L498.61,690.62 L500.00,690.66 L501.39,690.70 L502.78,690.74 L504.17,690.78 L505.56,690.82 L506.94,690.85 L508.33,690.89 L509.72,690.92 L511.11,690.96 L512.50,690.99 L513.89,691.02 L515.28,691.05 L516.67,691.08 L518.06,691.11 L519.44,691.14 L520.83,691.17 L522.22,691.20 L523.61,691.23 L525.00,691.25 L526.39,691.28 L527.78,691.30 L529.17,691.33 L530.56,691.35 L531.94,691.37 L533.33,691.40 L534.72,691.42 L536.11,691.44 L537.50,691.46 L538.89,691.48 L540.28,691.50 L541.67,691.52 L543.06,691.54 L544.44,691.56 L545.83,691.58 L547.22,691.60 L548.61,691.61 L550.00,691.63 L551.39,691.65 L552.78,691.66 L554.17,691.68 L555.56,691.69 L556.94,691.71 L558.33,691.72 L559.72,691.74 L561.11,691.75 L562.50,691.77 L563.89,691.78 L565.28,691.79 L566.67,691.80 L568.06,691.82 L569.44,691.83 L570.83,691.84 L572.22,691.85 L573.61,691.86 L575.00,691.88 L576.39,691.89 L577.78,691.90 L579.17,691.91 L580.56,691.92 L581.94,691.93 L583.33,691.94 L584.72,691.95 L586.11,691.95 L587.50,691.96 L588.89,691.97 L590.28,691.98 L591.67,691.99 L593.06,692.00 L594.44,692.01 L595.83,692.01 L597.22,692.02 L598.61,692.03 L600.00,692.04 L601.39,692.04 L602.78,692.05 L604.17,692.06 L605.56,692.06 L606.94,692.07 L608.33,692.08 L609.72,692.08 L611.11,692.09 L612.50,692.09 L613.89,692.10 L615.28,692.10 L616.67,692.11 L618.06,692.12 L619.44,692.12 L620.83,692.13 L622.22,692.13 L623.61,692.14 L625.00,692.14 L626.39,692.15 L627.78,692.15 L629.17,692.15 L630.56,692.16 L631.94,692.16 L633.33,692.17 L634.72,692.17 L636.11,692.18 L637.50,692.18 L638.89,692.18 L640.28,692.19 L641.67,692.19 L643.06,692.19 L644.44,692.20 L645.83,692.20 L647.22,692.20 L648.61,692.21 L650.00,692.21 L651.39,692.21 L652.78,692.22 L654.17,692.22 L655.56,692.22 L656.94,692.23 L658.33,692.23 L659.72,692.23 L661.11,692.23 L662.50,692.24 L663.89,692.24 L665.28,692.24 L666.67,692.24 L668.06,692.25 L669.44,692.25 L670.83,692.25 L672.22,692.25 L688.98,692.28 L705.74,692.30 L722.50,692.31 L739.26,692.32 L756.02,692.33 L772.78,692.34 L789.54,692.34 L806.30,692.34 L823.06,692.34 L839.81,692.35 L856.57,692.35 L873.33,692.35 L890.09,692.35 L906.85,692.35 L923.61,692.35 L940.37,692.35 L957.13,692.35 L973.89,692.35 L990.65,692.35 L1007.41,692.35 L1024.17,692.35 L1040.93,692.35 L1057.69,692.35 L1074.44,692.35 L1091.20,692.35 L1107.96,692.35 L1124.72,692.35 L1141.48,692.35 L1158.24,692.35 L1175.00,692.35 L1191.76,692.35 L1208.52,692.35 L1225.28,692.35 L1242.04,692.35 L1258.80,692.35 L1275.56,692.35 L1292.31,692.35 L1309.07,692.35 L1325.83,692.35" stroke="#0000ff"/>
<path d="M116.67,57.70 L117.36,62.36 L118.06,67.00 L118.75,71.61 L119.44,76.20 L120.14,80.77 L120.83,85.32 L121.53,89.84 L122.22,94.35 L122.92,98.83 L123.61,103.28 L124.31,107.72 L125.00,112.13 L125.69,116.52 L126.39,120.89 L127.08,125.24 L127.78,129.56 L128.47,133.86 L129.17,138.14 L129.86,142.40 L130.56,146.63 L131.25,150.85 L131.94,155.04 L132.64,159.20 L133.33,163.35 L134.03,167.47 L134.72,171.58 L135.42,175.66 L136.11,179.71 L136.81,183.75 L137.50,187.76 L138.19,191.75 L138.89,195.72 L139.58,199.67 L140.28,203.60 L140.97,207.50 L141.67,211.38 L142.36,215.25 L143.06,219.08 L143.75,222.90 L144.44,226.70 L145.14,230.47 L145.83,234.22 L146.53,237.95 L147.22,241.66 L147.92,245.35 L148.61,249.02 L149.31,252.66 L150.00,256.28 L150.69,259.89 L151.39,263.47 L152.08,267.03 L152.78,270.56 L153.47,274.08 L154.17,277.58 L154.86,281.05 L155.56,284.51 L156.25,287.94 L156.94,291.35 L157.64,294.74 L158.33,298.11 L159.03,301.46 L159.72,304.79 L160.42,308.10 L161.11,311.39 L161.81,314.66 L162.50,317.90 L163.19,321.13 L163.89,324.33 L164.58,327.52 L165.28,330.68 L165.97,333.83 L166.67,336.95 L167.36,340.06 L168.06,343.14 L168.75,346.21 L169.44,349.25 L170.14,352.28 L170.83,355.28 L171.53,358.27 L172.22,361.23 L172.92,364.18 L173.61,367.10 L174.31,370.01 L175.00,372.90 L175.69,375.76 L176.39,378.61 L177.08,381.44 L177.78,384.25 L178.47,387.04 L179.17,389.81 L179.86,392.57 L180.56,395.30 L181.25,398.02 L181.94,400.71 L182.64,403.39 L183.33,406.05 L184.03,408.69 L184.72,411.31 L185.42,413.91 L186.11,416.50 L186.81,419.06 L187.50,421.61 L188.19,424.14 L188.89,426.65 L189.58,429.14 L190.28,431.62 L190.97,434.08 L191.67,436.52 L192.36,438.94 L193.06,441.34 L193.75,443.73 L194.44,446.10 L195.14,448.45 L195.83,450.78 L196.53,453.10 L197.22,455.40 L197.92,457.68 L198.61,459.95 L199.31,462.20 L200.00,464.43 L201.39,468.84 L202.78,473.18 L204.17,477.46 L205.56,481.67 L206.94,485.82 L208.33,489.91 L209.72,493.92 L211.11,497.88 L212.50,501.77 L213.89,505.60 L215.28,509.37 L216.67,513.08 L218.06,516.73 L219.44,520.32 L220.83,523.85 L222.22,527.32 L223.61,530.74 L225.00,534.09 L226.39,537.39 L227.78,540.64 L229.17,543.83 L230.56,546.96 L231.94,550.04 L233.33,553.07 L234.72,556.05 L236.11,558.97 L237.50,561.84 L238.89,564.66 L240.28,567.44 L241.67,570.16 L243.06,572.83 L244.44,575.45 L245.83,578.03 L247.22,580.56 L248.61,583.04 L250.00,585.48 L251.39,587.87 L252.78,590.22 L254.17,592.52 L255.56,594.78 L256.94,597.00 L258.33,599.17 L259.72,601.31 L261.11,603.40 L262.50,605.45 L263.89,607.46 L265.28,609.44 L266.67,611.37 L268.06,613.26 L269.44,615.12 L270.83,616.94 L272.22,618.73 L273.61,620.48 L275.00,622.19 L276.39,623.87 L277.78,625.51 L279.17,627.12 L280.56,628.70 L281.94,630.24 L283.33,631.75 L284.72,633.23 L286.11,634.68 L287.50,636.10 L288.89,637.49 L290.28,638.85 L291.67,640.17 L293.06,641.48 L294.44,642.75 L295.83,643.99 L297.22,645.21 L298.61,646.40 L300.00,647.57 L301.39,648.70 L302.78,649.82 L304.17,650.91 L305.56,651.97 L306.94,653.01 L308.33,654.03 L309.72,655.02 L311.11,655.99 L312.50,656.94 L313.89,657.86 L315.28,658.77 L316.67,659.65 L318.06,660.51 L319.44,661.36 L320.83,662.18 L322.22,662.98 L323.61,663.77 L325.00,664.53 L326.39,665.28 L327.78,666.01 L329.17,666.72 L330.56,667.41 L331.94,668.09 L333.33,668.75 L334.72,669.39 L336.11,670.02 L337.50,670.63 L338.89,671.23 L340.28,671.81 L341.67,672.38 L343.06,672.93 L344.44,673.47 L345.83,674.00 L347.22,674.51 L348.61,675.01 L350.00,675.49 L351.39,675.97 L352.78,676.43 L354.17,676.88 L355.56,677.31 L356.94,677.74 L358.33,678.15 L359.72,678.55 L361.11,678.95 L362.50,679.33 L363.89,679.70 L365.28,680.06 L366.67,680.41 L368.06,680.76 L369.44,681.09 L370.83,681.41 L372.22,681.73 L373.61,682.03 L375.00,682.33 L376.39,682.62 L377.78,682.90 L379.17,683.17 L380.56,683.44 L381.94,683.70 L383.33,683.95 L384.72,684.19 L386.11,684.43 L387.50,684.66 L388.89,684.88 L390.28,685.10 L391.67,685.31 L393.06,685.51 L394.44,685.71 L395.83,685.90 L397.22,686.09 L398.61,686.27 L400.00,686.45 L401.39,686.62 L402.78,686.78 L404.17,686.94 L405.56,687.10 L406.94,687.25 L408.33,687.39 L409.72,687.54 L411.11,687.67 L412.50,687.81 L413.89,687.94 L415.28,688.06 L416.67,688.18 L418.06,688.30 L419.44,688.41 L420.83,688.52 L422.22,688.63 L423.61,688.73 L425.00,688.83 L426.39,688.93 L427.78,689.02 L429.17,689.12 L430.56,689.20 L431.94,689.29 L433.33,689.37 L434.72,689.45 L436.11,689.53 L437.50,689.60 L438.89,689.67 L440.28,689.74 L441.67,689.81 L443.06,689.87 L444.44,689.94 L445.83,690.00 L447.22,690.06 L448.61,690.11 L450.00,690.17 L451.39,690.22 L452.78,690.27 L454.17,690.32 L455.56,690.37 L456.94,690.42 L458.33,690.46 L459.72,690.50 L461.11,690.54 L462.50,690.58 L463.89,690.62 L465.28,690.66 L466.67,690.70 L468.06,690.73 L469.44,690.76 L470.83,690.80 L472.22,690.83 L473.61,690.86 L475.00,690.89 L476.39,690.91 L477.78,690.94 L479.17,690.97 L480.56,690.99 L481.94,691.02 L483.33,691.04 L484.72,691.06 L486.11,691.08 L487.50,691.10 L488.89,691.12 L490.28,691.14 L491.67,691.16 L493.06,691.18 L494.44,691.20 L495.83,691.21 L497.22,691.23 L498.61,691.24 L500.00,691.26 L501.39,691.27 L502.78,691.29 L504.17,691.30 L505.56,691.31 L506.94,691.32 L508.33,691.33 L509.72,691.35 L511.11,691.36 L512.50,691.37 L513.89,691.38 L515.28,691.39 L516.67,691.39 L518.06,691.40 L519.44,691.41 L520.83,691.42 L522.22,691.43 L523.61,691.43 L525.00,691.44 L526.39,691.45 L527.78,691.46 L529.17,691.46 L530.56,691.47 L531.94,691.47 L533.33,691.48 L534.72,691.48 L536.11,691.49 L537.50,691.49 L538.89,691.50 L540.28,691.50 L541.67,691.51 L543.06,691.51 L544.44,691.52 L545.83,691.52 L547.22,691.52 L548.61,691.53 L550.00,691.53 L551.39,691.53 L552.78,691.54 L554.17,691.54 L555.56,691.54 L556.94,691.54 L558.33,691.55 L559.72,691.55 L561.11,691.55 L562.50,691.55 L563.89,691.56 L565.28,691.56 L566.67,691.56 L568.06,691.56 L569.44,691.56 L570.83,691.57 L572.22,691.57 L573.61,691.57 L575.00,691.57 L576.39,691.57 L577.78,691.57 L579.17,691.57 L580.56,691.58 L581.94,691.58 L583.33,691.58 L584.72,691.58 L586.11,691.58 L587.50,691.58 L588.89,691.58 L590.28,691.58 L591.67,691.58 L593.06,691.58 L594.44,691.59 L595.83,691.59 L597.22,691.59 L598.61,691.59 L600.00,691.59 L601.39,691.59 L602.78,691.59 L604.17,691.59 L605.56,691.59 L606.94,691.59 L608.33,691.59 L609.72,691.59 L611.11,691.59 L612.50,691.59 L613.89,691.59 L615.28,691.59 L616.67,691.59 L618.06,691.59 L619.44,691.59 L620.83,691.59 L622.22,691.59 L623.61,691.59 L625.00,691.60 L626.39,691.60 L627.78,691.60 L629.17,691.60 L630.56,691.60 L631.94,691.60 L633.33,691.60 L634.72,691.60 L636.11,691.60 L637.50,691.60 L638.89,691.60 L640.28,691.60 L641.67,691.60 L643.06,691.60 L644.44,691.60 L645.83,691.60 L647.22,691.60 L648.61,691.60 L650.00,691.60 L651.39,691.60 L652.78,691.60 L654.17,691.60 L655.56,691.60 L656.94,691.60 L658.33,691.60 L659.72,691.60 L661.11,691.60 L662.50,691.60 L663.89,691.60 L665.28,691.60 L666.67,691.60 L668.06,691.60 L669.44,691.60 L670.83,691.60 L672.22,691.60 L688.98,691.60 L705.74,691.60 L722.50,691.60 L739.26,691.60 L756.02,691.60 L772.78,691.60 L789.54,691.60 L806.30,691.60 L823.06,691.60 L839.81,691.60 L856.57,691.60 L873.33,691.60 L890.09,691.60 L906.85,691.60 L923.61,691.60 L940.37,691.60 L957.13,691.60 L973.89,691.60 L990.65,691.60 L1007.41,691.60 L1024.17,691.60 L1040.93,691.60 L1057.69,691.60 L1074.44,691.60 L1091.20,691.60 L1107.96,691.60 L1124.72,691.60 L1141.48,691.60 L1158.24,691.60 L1175.00,691.60 L1191.76,691.60 L1208.52,691.60 L1225.28,691.60 L1242.04,691.60 L1258.80,691.60 L1275.56,691.60 L1292.31,691.60 L1309.07,691.60 L1325.83,691.60" stroke="#ff00ff"/>
</g>
<text transform="translate(6.53,35.07) scale(1.0192,1)" font-size="40.64" font-family='"Liberation Sans", sans-serif' font-weight="bold" fill="#000">(a)</text>
<rect x="84.00" y="1498.95" width="8.00" height="1.30" fill="#262626"/>
<rect x="946.60" y="1498.95" width="8.00" height="1.30" fill="#262626"/>
<rect x="84.00" y="1432.35" width="8.00" height="1.30" fill="#262626"/>
<rect x="946.60" y="1432.35" width="8.00" height="1.30" fill="#262626"/>
<rect x="84.00" y="1365.75" width="8.00" height="1.30" fill="#262626"/>
<rect x="946.60" y="1365.75" width="8.00" height="1.30" fill="#262626"/>
<rect x="84.00" y="1299.15" width="8.00" height="1.30" fill="#262626"/>
<rect x="946.60" y="1299.15" width="8.00" height="1.30" fill="#262626"/>
<rect x="84.00" y="1232.55" width="8.00" height="1.30" fill="#262626"/>
<rect x="946.60" y="1232.55" width="8.00" height="1.30" fill="#262626"/>
<rect x="84.00" y="1165.95" width="8.00" height="1.30" fill="#262626"/>
<rect x="946.60" y="1165.95" width="8.00" height="1.30" fill="#262626"/>
<rect x="84.00" y="1099.35" width="8.00" height="1.30" fill="#262626"/>
<rect x="946.60" y="1099.35" width="8.00" height="1.30" fill="#262626"/>
<rect x="84.00" y="1032.75" width="8.00" height="1.30" fill="#262626"/>
<rect x="946.60" y="1032.75" width="8.00" height="1.30" fill="#262626"/>
<rect x="84.00" y="966.15" width="8.00" height="1.30" fill="#262626"/>
<rect x="946.60" y="966.15" width="8.00" height="1.30" fill="#262626"/>
<rect x="84.00" y="899.55" width="8.00" height="1.30" fill="#262626"/>
<rect x="946.60" y="899.55" width="8.00" height="1.30" fill="#262626"/>
<rect x="84.00" y="834.95" width="8.00" height="1.30" fill="#262626"/>
<rect x="946.60" y="834.95" width="8.00" height="1.30" fill="#262626"/>
<rect x="83.35" y="1488.00" width="1.30" height="16.00" fill="#444"/>
<rect x="83.35" y="835.60" width="1.30" height="15.00" fill="#444"/>
<rect x="170.41" y="1488.00" width="1.30" height="16.00" fill="#444"/>
<rect x="170.41" y="835.60" width="1.30" height="15.00" fill="#444"/>
<rect x="257.47" y="1488.00" width="1.30" height="16.00" fill="#444"/>
<rect x="257.47" y="835.60" width="1.30" height="15.00" fill="#444"/>
<rect x="344.53" y="1488.00" width="1.30" height="16.00" fill="#444"/>
<rect x="344.53" y="835.60" width="1.30" height="15.00" fill="#444"/>
<rect x="431.59" y="1488.00" width="1.30" height="16.00" fill="#444"/>
<rect x="431.59" y="835.60" width="1.30" height="15.00" fill="#444"/>
<rect x="518.65" y="1488.00" width="1.30" height="16.00" fill="#444"/>
<rect x="518.65" y="835.60" width="1.30" height="15.00" fill="#444"/>
<rect x="605.71" y="1488.00" width="1.30" height="16.00" fill="#444"/>
<rect x="605.71" y="835.60" width="1.30" height="15.00" fill="#444"/>
<rect x="692.77" y="1488.00" width="1.30" height="16.00" fill="#444"/>
<rect x="692.77" y="835.60" width="1.30" height="15.00" fill="#444"/>
<rect x="779.83" y="1488.00" width="1.30" height="16.00" fill="#444"/>
<rect x="779.83" y="835.60" width="1.30" height="15.00" fill="#444"/>
<rect x="866.89" y="1488.00" width="1.30" height="16.00" fill="#444"/>
<rect x="866.89" y="835.60" width="1.30" height="15.00" fill="#444"/>
<rect x="953.95" y="1488.00" width="1.30" height="16.00" fill="#444"/>
<rect x="953.95" y="835.60" width="1.30" height="15.00" fill="#444"/>
<rect x="83.00" y="834.65" width="872.30" height="1.90" fill="#262626"/>
<rect x="83.00" y="1503.05" width="872.30" height="1.90" fill="#262626"/>
<rect x="83.00" y="835.60" width="2" height="668.40" fill="#8e8e8e"/>
<rect x="953.90" y="835.60" width="1.4" height="668.40" fill="#666"/>
<text transform="translate(73.11,1510.16) scale(0.4800,1)" font-size="21.60" font-family='"Liberation Sans", sans-serif' fill="#262626">0</text>
<text transform="translate(73.26,1443.56) scale(0.4800,1)" font-size="21.60" font-family='"Liberation Sans", sans-serif' fill="#262626">2</text>
<text transform="translate(73.06,1376.96) scale(0.4800,1)" font-size="21.60" font-family='"Liberation Sans", sans-serif' fill="#262626">4</text>
<text transform="translate(73.16,1310.36) scale(0.4800,1)" font-size="21.60" font-family='"Liberation Sans", sans-serif' fill="#262626">6</text>
<text transform="translate(73.16,1243.76) scale(0.4800,1)" font-size="21.60" font-family='"Liberation Sans", sans-serif' fill="#262626">8</text>
<text transform="translate(67.35,1177.26) scale(0.4800,1)" font-size="21.60" font-family='"Liberation Sans", sans-serif' fill="#262626">10</text>
<text transform="translate(67.51,1110.66) scale(0.4800,1)" font-size="21.60" font-family='"Liberation Sans", sans-serif' fill="#262626">12</text>
<text transform="translate(67.30,1044.06) scale(0.4800,1)" font-size="21.60" font-family='"Liberation Sans", sans-serif' fill="#262626">14</text>
<text transform="translate(67.41,977.46) scale(0.4800,1)" font-size="21.60" font-family='"Liberation Sans", sans-serif' fill="#262626">16</text>
<text transform="translate(67.41,910.86) scale(0.4800,1)" font-size="21.60" font-family='"Liberation Sans", sans-serif' fill="#262626">18</text>
<text transform="translate(67.35,844.26) scale(0.4800,1)" font-size="21.60" font-family='"Liberation Sans", sans-serif' fill="#262626">20</text>
<text transform="translate(81.10,1536.12) scale(0.4800,1)" font-size="21.60" font-family='"Liberation Sans", sans-serif' fill="#262626">0</text>
<text transform="translate(160.98,1536.12) scale(0.4800,1)" font-size="21.60" font-family='"Liberation Sans", sans-serif' fill="#262626">0.05</text>
<text transform="translate(250.94,1536.12) scale(0.4800,1)" font-size="21.60" font-family='"Liberation Sans", sans-serif' fill="#262626">0.1</text>
<text transform="translate(335.10,1536.12) scale(0.4800,1)" font-size="21.60" font-family='"Liberation Sans", sans-serif' fill="#262626">0.15</text>
<text transform="translate(425.09,1536.12) scale(0.4800,1)" font-size="21.60" font-family='"Liberation Sans", sans-serif' fill="#262626">0.2</text>
<text transform="translate(509.22,1536.12) scale(0.4800,1)" font-size="21.60" font-family='"Liberation Sans", sans-serif' fill="#262626">0.25</text>
<text transform="translate(599.15,1536.12) scale(0.4800,1)" font-size="21.60" font-family='"Liberation Sans", sans-serif' fill="#262626">0.3</text>
<text transform="translate(683.34,1536.12) scale(0.4800,1)" font-size="21.60" font-family='"Liberation Sans", sans-serif' fill="#262626">0.35</text>
<text transform="translate(773.22,1536.12) scale(0.4800,1)" font-size="21.60" font-family='"Liberation Sans", sans-serif' fill="#262626">0.4</text>
<text transform="translate(857.46,1536.12) scale(0.4800,1)" font-size="21.60" font-family='"Liberation Sans", sans-serif' fill="#262626">0.45</text>
<text transform="translate(947.39,1536.12) scale(0.4800,1)" font-size="21.60" font-family='"Liberation Sans", sans-serif' fill="#262626">0.5</text>
<g transform="scale(0.72,1)" fill="none" stroke-width="2.7" stroke-linejoin="round" stroke-linecap="butt">
<path d="M116.67,868.10 L117.36,872.21 L118.06,876.31 L118.75,880.39 L119.44,884.45 L120.14,888.50 L120.83,892.53 L121.53,896.55 L122.22,900.55 L122.92,904.54 L123.61,908.51 L124.31,912.46 L125.00,916.40 L125.69,920.33 L126.39,924.24 L127.08,928.13 L127.78,932.01 L128.47,935.87 L129.17,939.71 L129.86,943.54 L130.56,947.36 L131.25,951.16 L131.94,954.94 L132.64,958.70 L133.33,962.45 L134.03,966.19 L134.72,969.91 L135.42,973.61 L136.11,977.30 L136.81,980.97 L137.50,984.63 L138.19,988.26 L138.89,991.89 L139.58,995.50 L140.28,999.09 L140.97,1002.66 L141.67,1006.22 L142.36,1009.77 L143.06,1013.29 L143.75,1016.81 L144.44,1020.30 L145.14,1023.78 L145.83,1027.25 L146.53,1030.69 L147.22,1034.13 L147.92,1037.54 L148.61,1040.94 L149.31,1044.32 L150.00,1047.69 L150.69,1051.04 L151.39,1054.38 L152.08,1057.70 L152.78,1061.00 L153.47,1064.29 L154.17,1067.56 L154.86,1070.82 L155.56,1074.06 L156.25,1077.28 L156.94,1080.49 L157.64,1083.69 L158.33,1086.86 L159.03,1090.02 L159.72,1093.17 L160.42,1096.29 L161.11,1099.41 L161.81,1102.50 L162.50,1105.59 L163.19,1108.65 L163.89,1111.70 L164.58,1114.73 L165.28,1117.75 L165.97,1120.75 L166.67,1123.74 L167.36,1126.71 L168.06,1129.66 L168.75,1132.60 L169.44,1135.53 L170.14,1138.43 L170.83,1141.32 L171.53,1144.20 L172.22,1147.06 L172.92,1149.91 L173.61,1152.73 L174.31,1155.55 L175.00,1158.35 L175.69,1161.13 L176.39,1163.90 L177.08,1166.65 L177.78,1169.38 L178.47,1172.10 L179.17,1174.81 L179.86,1177.50 L180.56,1180.17 L181.25,1182.83 L181.94,1185.47 L182.64,1188.10 L183.33,1190.72 L184.03,1193.31 L184.72,1195.90 L185.42,1198.46 L186.11,1201.02 L186.81,1203.55 L187.50,1206.07 L188.19,1208.58 L188.89,1211.07 L189.58,1213.55 L190.28,1216.01 L190.97,1218.46 L191.67,1220.89 L192.36,1223.31 L193.06,1225.71 L193.75,1228.10 L194.44,1230.47 L195.14,1232.83 L195.83,1235.17 L196.53,1237.50 L197.22,1239.82 L197.92,1242.12 L198.61,1244.40 L199.31,1246.67 L200.00,1248.93 L201.39,1253.39 L202.78,1257.81 L204.17,1262.16 L205.56,1266.46 L206.94,1270.70 L208.33,1274.88 L209.72,1279.01 L211.11,1283.08 L212.50,1287.10 L213.89,1291.07 L215.28,1294.97 L216.67,1298.83 L218.06,1302.63 L219.44,1306.38 L220.83,1310.07 L222.22,1313.72 L223.61,1317.31 L225.00,1320.84 L226.39,1324.33 L227.78,1327.77 L229.17,1331.15 L230.56,1334.49 L231.94,1337.77 L233.33,1341.01 L234.72,1344.20 L236.11,1347.34 L237.50,1350.43 L238.89,1353.47 L240.28,1356.47 L241.67,1359.42 L243.06,1362.32 L244.44,1365.18 L245.83,1367.99 L247.22,1370.75 L248.61,1373.47 L250.00,1376.15 L251.39,1378.79 L252.78,1381.38 L254.17,1383.92 L255.56,1386.43 L256.94,1388.89 L258.33,1391.31 L259.72,1393.69 L261.11,1396.03 L262.50,1398.33 L263.89,1400.59 L265.28,1402.81 L266.67,1405.00 L268.06,1407.14 L269.44,1409.24 L270.83,1411.31 L272.22,1413.34 L273.61,1415.34 L275.00,1417.30 L276.39,1419.22 L277.78,1421.11 L279.17,1422.96 L280.56,1424.78 L281.94,1426.56 L283.33,1428.31 L284.72,1430.03 L286.11,1431.71 L287.50,1433.37 L288.89,1434.99 L290.28,1436.58 L291.67,1438.13 L293.06,1439.66 L294.44,1441.16 L295.83,1442.63 L297.22,1444.07 L298.61,1445.48 L300.00,1446.86 L301.39,1448.22 L302.78,1449.54 L304.17,1450.84 L305.56,1452.12 L306.94,1453.36 L308.33,1454.58 L309.72,1455.78 L311.11,1456.95 L312.50,1458.10 L313.89,1459.22 L315.28,1460.32 L316.67,1461.39 L318.06,1462.44 L319.44,1463.47 L320.83,1464.47 L322.22,1465.46 L323.61,1466.42 L325.00,1467.36 L326.39,1468.28 L327.78,1469.18 L329.17,1470.06 L330.56,1470.92 L331.94,1471.76 L333.33,1472.58 L334.72,1473.38 L336.11,1474.16 L337.50,1474.93 L338.89,1475.68 L340.28,1476.41 L341.67,1477.12 L343.06,1477.81 L344.44,1478.49 L345.83,1479.16 L347.22,1479.80 L348.61,1480.44 L350.00,1481.05 L351.39,1481.65 L352.78,1482.24 L354.17,1482.81 L355.56,1483.37 L356.94,1483.91 L358.33,1484.44 L359.72,1484.96 L361.11,1485.47 L362.50,1485.96 L363.89,1486.44 L365.28,1486.90 L366.67,1487.36 L368.06,1487.80 L369.44,1488.23 L370.83,1488.65 L372.22,1489.06 L373.61,1489.46 L375.00,1489.85 L376.39,1490.23 L377.78,1490.59 L379.17,1490.95 L380.56,1491.30 L381.94,1491.64 L383.33,1491.97 L384.72,1492.29 L386.11,1492.60 L387.50,1492.91 L388.89,1493.20 L390.28,1493.49 L391.67,1493.77 L393.06,1494.04 L394.44,1494.30 L395.83,1494.56 L397.22,1494.80 L398.61,1495.05 L400.00,1495.28 L401.39,1495.51 L402.78,1495.73 L404.17,1495.95 L405.56,1496.15 L406.94,1496.36 L408.33,1496.55 L409.72,1496.74 L411.11,1496.93 L412.50,1497.11 L413.89,1497.28 L415.28,1497.45 L416.67,1497.62 L418.06,1497.77 L419.44,1497.93 L420.83,1498.08 L422.22,1498.22 L423.61,1498.36 L425.00,1498.50 L426.39,1498.63 L427.78,1498.76 L429.17,1498.88 L430.56,1499.00 L431.94,1499.12 L433.33,1499.23 L434.72,1499.34 L436.11,1499.44 L437.50,1499.55 L438.89,1499.64 L440.28,1499.74 L441.67,1499.83 L443.06,1499.92 L444.44,1500.01 L445.83,1500.09 L447.22,1500.17 L448.61,1500.25 L450.00,1500.33 L451.39,1500.40 L452.78,1500.47 L454.17,1500.54 L455.56,1500.60 L456.94,1500.67 L458.33,1500.73 L459.72,1500.79 L461.11,1500.84 L462.50,1500.90 L463.89,1500.95 L465.28,1501.00 L466.67,1501.05 L468.06,1501.10 L469.44,1501.15 L470.83,1501.19 L472.22,1501.24 L473.61,1501.28 L475.00,1501.32 L476.39,1501.36 L477.78,1501.39 L479.17,1501.43 L480.56,1501.46 L481.94,1501.50 L483.33,1501.53 L484.72,1501.56 L486.11,1501.59 L487.50,1501.62 L488.89,1501.65 L490.28,1501.67 L491.67,1501.70 L493.06,1501.72 L494.44,1501.75 L495.83,1501.77 L497.22,1501.79 L498.61,1501.81 L500.00,1501.83 L501.39,1501.85 L502.78,1501.87 L504.17,1501.89 L505.56,1501.91 L506.94,1501.92 L508.33,1501.94 L509.72,1501.95 L511.11,1501.97 L512.50,1501.98 L513.89,1502.00 L515.28,1502.01 L516.67,1502.02 L518.06,1502.03 L519.44,1502.05 L520.83,1502.06 L522.22,1502.07 L523.61,1502.08 L525.00,1502.09 L526.39,1502.10 L527.78,1502.11 L529.17,1502.11 L530.56,1502.12 L531.94,1502.13 L533.33,1502.14 L534.72,1502.15 L536.11,1502.15 L537.50,1502.16 L538.89,1502.17 L540.28,1502.17 L541.67,1502.18 L543.06,1502.18 L544.44,1502.19 L545.83,1502.19 L547.22,1502.20 L548.61,1502.20 L550.00,1502.21 L551.39,1502.21 L552.78,1502.22 L554.17,1502.22 L555.56,1502.22 L556.94,1502.23 L558.33,1502.23 L559.72,1502.23 L561.11,1502.24 L562.50,1502.24 L563.89,1502.24 L565.28,1502.25 L566.67,1502.25 L568.06,1502.25 L569.44,1502.25 L570.83,1502.26 L572.22,1502.26 L573.61,1502.26 L575.00,1502.26 L576.39,1502.26 L577.78,1502.27 L579.17,1502.27 L580.56,1502.27 L581.94,1502.27 L583.33,1502.27 L584.72,1502.27 L586.11,1502.27 L587.50,1502.28 L588.89,1502.28 L590.28,1502.28 L591.67,1502.28 L593.06,1502.28 L594.44,1502.28 L595.83,1502.28 L597.22,1502.28 L598.61,1502.28 L600.00,1502.29 L601.39,1502.29 L602.78,1502.29 L604.17,1502.29 L605.56,1502.29 L606.94,1502.29 L608.33,1502.29 L609.72,1502.29 L611.11,1502.29 L612.50,1502.29 L613.89,1502.29 L615.28,1502.29 L616.67,1502.29 L618.06,1502.29 L619.44,1502.29 L620.83,1502.29 L622.22,1502.29 L623.61,1502.29 L625.00,1502.29 L626.39,1502.29 L627.78,1502.30 L629.17,1502.30 L630.56,1502.30 L631.94,1502.30 L633.33,1502.30 L634.72,1502.30 L636.11,1502.30 L637.50,1502.30 L638.89,1502.30 L640.28,1502.30 L641.67,1502.30 L643.06,1502.30 L644.44,1502.30 L645.83,1502.30 L647.22,1502.30 L648.61,1502.30 L650.00,1502.30 L651.39,1502.30 L652.78,1502.30 L654.17,1502.30 L655.56,1502.30 L656.94,1502.30 L658.33,1502.30 L659.72,1502.30 L661.11,1502.30 L662.50,1502.30 L663.89,1502.30 L665.28,1502.30 L666.67,1502.30 L668.06,1502.30 L669.44,1502.30 L670.83,1502.30 L672.22,1502.30 L688.98,1502.30 L705.74,1502.30 L722.50,1502.30 L739.26,1502.30 L756.02,1502.30 L772.78,1502.30 L789.54,1502.30 L806.30,1502.30 L823.06,1502.30 L839.81,1502.30 L856.57,1502.30 L873.33,1502.30 L890.09,1502.30 L906.85,1502.30 L923.61,1502.30 L940.37,1502.30 L957.13,1502.30 L973.89,1502.30 L990.65,1502.30 L1007.41,1502.30 L1024.17,1502.30 L1040.93,1502.30 L1057.69,1502.30 L1074.44,1502.30 L1091.20,1502.30 L1107.96,1502.30 L1124.72,1502.30 L1141.48,1502.30 L1158.24,1502.30 L1175.00,1502.30 L1191.76,1502.30 L1208.52,1502.30 L1225.28,1502.30 L1242.04,1502.30 L1258.80,1502.30 L1275.56,1502.30 L1292.31,1502.30 L1309.07,1502.30 L1325.83,1502.30" stroke="#000000"/>
<path d="M116.67,868.10 L117.36,873.25 L118.06,878.38 L118.75,883.48 L119.44,888.56 L120.14,893.61 L120.83,898.63 L121.53,903.63 L122.22,908.60 L122.92,913.55 L123.61,918.47 L124.31,923.36 L125.00,928.23 L125.69,933.07 L126.39,937.89 L127.08,942.68 L127.78,947.44 L128.47,952.18 L129.17,956.89 L129.86,961.58 L130.56,966.24 L131.25,970.87 L131.94,975.48 L132.64,980.06 L133.33,984.62 L134.03,989.15 L134.72,993.65 L135.42,998.13 L136.11,1002.59 L136.81,1007.01 L137.50,1011.41 L138.19,1015.79 L138.89,1020.14 L139.58,1024.46 L140.28,1028.76 L140.97,1033.03 L141.67,1037.27 L142.36,1041.49 L143.06,1045.69 L143.75,1049.86 L144.44,1054.00 L145.14,1058.11 L145.83,1062.21 L146.53,1066.27 L147.22,1070.31 L147.92,1074.33 L148.61,1078.32 L149.31,1082.28 L150.00,1086.22 L150.69,1090.13 L151.39,1094.02 L152.08,1097.88 L152.78,1101.72 L153.47,1105.53 L154.17,1109.32 L154.86,1113.08 L155.56,1116.81 L156.25,1120.52 L156.94,1124.21 L157.64,1127.87 L158.33,1131.51 L159.03,1135.12 L159.72,1138.71 L160.42,1142.27 L161.11,1145.81 L161.81,1149.32 L162.50,1152.81 L163.19,1156.27 L163.89,1159.71 L164.58,1163.13 L165.28,1166.52 L165.97,1169.88 L166.67,1173.22 L167.36,1176.54 L168.06,1179.84 L168.75,1183.11 L169.44,1186.35 L170.14,1189.57 L170.83,1192.77 L171.53,1195.95 L172.22,1199.10 L172.92,1202.23 L173.61,1205.33 L174.31,1208.41 L175.00,1211.47 L175.69,1214.50 L176.39,1217.51 L177.08,1220.50 L177.78,1223.47 L178.47,1226.41 L179.17,1229.33 L179.86,1232.22 L180.56,1235.10 L181.25,1237.95 L181.94,1240.77 L182.64,1243.58 L183.33,1246.36 L184.03,1249.12 L184.72,1251.86 L185.42,1254.58 L186.11,1257.27 L186.81,1259.95 L187.50,1262.60 L188.19,1265.23 L188.89,1267.83 L189.58,1270.42 L190.28,1272.98 L190.97,1275.53 L191.67,1278.05 L192.36,1280.55 L193.06,1283.03 L193.75,1285.49 L194.44,1287.92 L195.14,1290.34 L195.83,1292.74 L196.53,1295.11 L197.22,1297.47 L197.92,1299.80 L198.61,1302.11 L199.31,1304.41 L200.00,1306.68 L201.39,1311.17 L202.78,1315.57 L204.17,1319.90 L205.56,1324.15 L206.94,1328.33 L208.33,1332.42 L209.72,1336.44 L211.11,1340.39 L212.50,1344.26 L213.89,1348.07 L215.28,1351.79 L216.67,1355.45 L218.06,1359.04 L219.44,1362.56 L220.83,1366.00 L222.22,1369.39 L223.61,1372.70 L225.00,1375.95 L226.39,1379.13 L227.78,1382.25 L229.17,1385.30 L230.56,1388.30 L231.94,1391.23 L233.33,1394.09 L234.72,1396.90 L236.11,1399.65 L237.50,1402.35 L238.89,1404.98 L240.28,1407.56 L241.67,1410.08 L243.06,1412.55 L244.44,1414.96 L245.83,1417.32 L247.22,1419.62 L248.61,1421.88 L250.00,1424.08 L251.39,1426.24 L252.78,1428.34 L254.17,1430.40 L255.56,1432.41 L256.94,1434.37 L258.33,1436.28 L259.72,1438.15 L261.11,1439.98 L262.50,1441.76 L263.89,1443.50 L265.28,1445.20 L266.67,1446.86 L268.06,1448.47 L269.44,1450.05 L270.83,1451.59 L272.22,1453.09 L273.61,1454.55 L275.00,1455.97 L276.39,1457.36 L277.78,1458.71 L279.17,1460.03 L280.56,1461.31 L281.94,1462.56 L283.33,1463.78 L284.72,1464.97 L286.11,1466.12 L287.50,1467.24 L288.89,1468.34 L290.28,1469.40 L291.67,1470.44 L293.06,1471.44 L294.44,1472.42 L295.83,1473.37 L297.22,1474.30 L298.61,1475.20 L300.00,1476.07 L301.39,1476.92 L302.78,1477.75 L304.17,1478.55 L305.56,1479.33 L306.94,1480.09 L308.33,1480.82 L309.72,1481.53 L311.11,1482.23 L312.50,1482.90 L313.89,1483.55 L315.28,1484.18 L316.67,1484.80 L318.06,1485.39 L319.44,1485.97 L320.83,1486.53 L322.22,1487.07 L323.61,1487.60 L325.00,1488.11 L326.39,1488.60 L327.78,1489.08 L329.17,1489.54 L330.56,1489.99 L331.94,1490.42 L333.33,1490.84 L334.72,1491.25 L336.11,1491.64 L337.50,1492.02 L338.89,1492.39 L340.28,1492.75 L341.67,1493.09 L343.06,1493.43 L344.44,1493.75 L345.83,1494.06 L347.22,1494.36 L348.61,1494.65 L350.00,1494.93 L351.39,1495.20 L352.78,1495.47 L354.17,1495.72 L355.56,1495.96 L356.94,1496.20 L358.33,1496.42 L359.72,1496.64 L361.11,1496.86 L362.50,1497.06 L363.89,1497.26 L365.28,1497.45 L366.67,1497.63 L368.06,1497.81 L369.44,1497.98 L370.83,1498.14 L372.22,1498.30 L373.61,1498.45 L375.00,1498.59 L376.39,1498.74 L377.78,1498.87 L379.17,1499.00 L380.56,1499.13 L381.94,1499.25 L383.33,1499.36 L384.72,1499.48 L386.11,1499.58 L387.50,1499.69 L388.89,1499.78 L390.28,1499.88 L391.67,1499.97 L393.06,1500.06 L394.44,1500.14 L395.83,1500.23 L397.22,1500.30 L398.61,1500.38 L400.00,1500.45 L401.39,1500.52 L402.78,1500.58 L404.17,1500.65 L405.56,1500.71 L406.94,1500.77 L408.33,1500.82 L409.72,1500.88 L411.11,1500.93 L412.50,1500.98 L413.89,1501.02 L415.28,1501.07 L416.67,1501.11 L418.06,1501.15 L419.44,1501.19 L420.83,1501.23 L422.22,1501.27 L423.61,1501.30 L425.00,1501.33 L426.39,1501.37 L427.78,1501.40 L429.17,1501.43 L430.56,1501.45 L431.94,1501.48 L433.33,1501.50 L434.72,1501.53 L436.11,1501.55 L437.50,1501.57 L438.89,1501.59 L440.28,1501.61 L441.67,1501.63 L443.06,1501.65 L444.44,1501.67 L445.83,1501.69 L447.22,1501.70 L448.61,1501.72 L450.00,1501.73 L451.39,1501.74 L452.78,1501.76 L454.17,1501.77 L455.56,1501.78 L456.94,1501.79 L458.33,1501.80 L459.72,1501.81 L461.11,1501.82 L462.50,1501.83 L463.89,1501.84 L465.28,1501.85 L466.67,1501.86 L468.06,1501.87 L469.44,1501.87 L470.83,1501.88 L472.22,1501.89 L473.61,1501.89 L475.00,1501.90 L476.39,1501.90 L477.78,1501.91 L479.17,1501.91 L480.56,1501.92 L481.94,1501.92 L483.33,1501.93 L484.72,1501.93 L486.11,1501.94 L487.50,1501.94 L488.89,1501.94 L490.28,1501.95 L491.67,1501.95 L493.06,1501.95 L494.44,1501.95 L495.83,1501.96 L497.22,1501.96 L498.61,1501.96 L500.00,1501.96 L501.39,1501.97 L502.78,1501.97 L504.17,1501.97 L505.56,1501.97 L506.94,1501.97 L508.33,1501.97 L509.72,1501.98 L511.11,1501.98 L512.50,1501.98 L513.89,1501.98 L515.28,1501.98 L516.67,1501.98 L518.06,1501.98 L519.44,1501.98 L520.83,1501.99 L522.22,1501.99 L523.61,1501.99 L525.00,1501.99 L526.39,1501.99 L527.78,1501.99 L529.17,1501.99 L530.56,1501.99 L531.94,1501.99 L533.33,1501.99 L534.72,1501.99 L536.11,1501.99 L537.50,1501.99 L538.89,1501.99 L540.28,1501.99 L541.67,1501.99 L543.06,1501.99 L544.44,1502.00 L545.83,1502.00 L547.22,1502.00 L548.61,1502.00 L550.00,1502.00 L551.39,1502.00 L552.78,1502.00 L554.17,1502.00 L555.56,1502.00 L556.94,1502.00 L558.33,1502.00 L559.72,1502.00 L561.11,1502.00 L562.50,1502.00 L563.89,1502.00 L565.28,1502.00 L566.67,1502.00 L568.06,1502.00 L569.44,1502.00 L570.83,1502.00 L572.22,1502.00 L573.61,1502.00 L575.00,1502.00 L576.39,1502.00 L577.78,1502.00 L579.17,1502.00 L580.56,1502.00 L581.94,1502.00 L583.33,1502.00 L584.72,1502.00 L586.11,1502.00 L587.50,1502.00 L588.89,1502.00 L590.28,1502.00 L591.67,1502.00 L593.06,1502.00 L594.44,1502.00 L595.83,1502.00 L597.22,1502.00 L598.61,1502.00 L600.00,1502.00 L601.39,1502.00 L602.78,1502.00 L604.17,1502.00 L605.56,1502.00 L606.94,1502.00 L608.33,1502.00 L609.72,1502.00 L611.11,1502.00 L612.50,1502.00 L613.89,1502.00 L615.28,1502.00 L616.67,1502.00 L618.06,1502.00 L619.44,1502.00 L620.83,1502.00 L622.22,1502.00 L623.61,1502.00 L625.00,1502.00 L626.39,1502.00 L627.78,1502.00 L629.17,1502.00 L630.56,1502.00 L631.94,1502.00 L633.33,1502.00 L634.72,1502.00 L636.11,1502.00 L637.50,1502.00 L638.89,1502.00 L640.28,1502.00 L641.67,1502.00 L643.06,1502.00 L644.44,1502.00 L645.83,1502.00 L647.22,1502.00 L648.61,1502.00 L650.00,1502.00 L651.39,1502.00 L652.78,1502.00 L654.17,1502.00 L655.56,1502.00 L656.94,1502.00 L658.33,1502.00 L659.72,1502.00 L661.11,1502.00 L662.50,1502.00 L663.89,1502.00 L665.28,1502.00 L666.67,1502.00 L668.06,1502.00 L669.44,1502.00 L670.83,1502.00 L672.22,1502.00 L688.98,1502.00 L705.74,1502.00 L722.50,1502.00 L739.26,1502.00 L756.02,1502.00 L772.78,1502.00 L789.54,1502.00 L806.30,1502.00 L823.06,1502.00 L839.81,1502.00 L856.57,1502.00 L873.33,1502.00 L890.09,1502.00 L906.85,1502.00 L923.61,1502.00 L940.37,1502.00 L957.13,1502.00 L973.89,1502.00 L990.65,1502.00 L1007.41,1502.00 L1024.17,1502.00 L1040.93,1502.00 L1057.69,1502.00 L1074.44,1502.00 L1091.20,1502.00 L1107.96,1502.00 L1124.72,1502.00 L1141.48,1502.00 L1158.24,1502.00 L1175.00,1502.00 L1191.76,1502.00 L1208.52,1502.00 L1225.28,1502.00 L1242.04,1502.00 L1258.80,1502.00 L1275.56,1502.00 L1292.31,1502.00 L1309.07,1502.00 L1325.83,1502.00" stroke="#ff0000"/>
<path d="M116.67,868.10 L117.36,873.95 L118.06,879.78 L118.75,885.60 L119.44,891.41 L120.14,897.20 L120.83,902.98 L121.53,908.74 L122.22,914.48 L122.92,920.21 L123.61,925.92 L124.31,931.61 L125.00,937.28 L125.69,942.93 L126.39,948.56 L127.08,954.17 L127.78,959.76 L128.47,965.33 L129.17,970.87 L129.86,976.39 L130.56,981.89 L131.25,987.36 L131.94,992.80 L132.64,998.22 L133.33,1003.61 L134.03,1008.98 L134.72,1014.32 L135.42,1019.63 L136.11,1024.91 L136.81,1030.17 L137.50,1035.39 L138.19,1040.59 L138.89,1045.76 L139.58,1050.89 L140.28,1056.00 L140.97,1061.07 L141.67,1066.12 L142.36,1071.13 L143.06,1076.11 L143.75,1081.06 L144.44,1085.97 L145.14,1090.86 L145.83,1095.71 L146.53,1100.52 L147.22,1105.31 L147.92,1110.05 L148.61,1114.77 L149.31,1119.45 L150.00,1124.10 L150.69,1128.71 L151.39,1133.28 L152.08,1137.83 L152.78,1142.33 L153.47,1146.80 L154.17,1151.24 L154.86,1155.64 L155.56,1160.00 L156.25,1164.33 L156.94,1168.62 L157.64,1172.88 L158.33,1177.10 L159.03,1181.28 L159.72,1185.43 L160.42,1189.54 L161.11,1193.62 L161.81,1197.66 L162.50,1201.66 L163.19,1205.62 L163.89,1209.55 L164.58,1213.45 L165.28,1217.30 L165.97,1221.12 L166.67,1224.91 L167.36,1228.65 L168.06,1232.37 L168.75,1236.04 L169.44,1239.68 L170.14,1243.28 L170.83,1246.85 L171.53,1250.38 L172.22,1253.87 L172.92,1257.33 L173.61,1260.75 L174.31,1264.14 L175.00,1267.49 L175.69,1270.81 L176.39,1274.09 L177.08,1277.34 L177.78,1280.55 L178.47,1283.72 L179.17,1286.86 L179.86,1289.97 L180.56,1293.04 L181.25,1296.08 L181.94,1299.08 L182.64,1302.05 L183.33,1304.99 L184.03,1307.89 L184.72,1310.76 L185.42,1313.59 L186.11,1316.40 L186.81,1319.17 L187.50,1321.90 L188.19,1324.61 L188.89,1327.28 L189.58,1329.92 L190.28,1332.52 L190.97,1335.10 L191.67,1337.64 L192.36,1340.15 L193.06,1342.64 L193.75,1345.09 L194.44,1347.51 L195.14,1349.90 L195.83,1352.26 L196.53,1354.58 L197.22,1356.88 L197.92,1359.15 L198.61,1361.39 L199.31,1363.61 L200.00,1365.79 L201.39,1370.07 L202.78,1374.23 L204.17,1378.29 L205.56,1382.24 L206.94,1386.08 L208.33,1389.81 L209.72,1393.45 L211.11,1396.98 L212.50,1400.41 L213.89,1403.75 L215.28,1406.99 L216.67,1410.14 L218.06,1413.20 L219.44,1416.17 L220.83,1419.05 L222.22,1421.84 L223.61,1424.56 L225.00,1427.19 L226.39,1429.74 L227.78,1432.21 L229.17,1434.61 L230.56,1436.94 L231.94,1439.19 L233.33,1441.37 L234.72,1443.48 L236.11,1445.53 L237.50,1447.51 L238.89,1449.43 L240.28,1451.29 L241.67,1453.08 L243.06,1454.82 L244.44,1456.50 L245.83,1458.12 L247.22,1459.70 L248.61,1461.21 L250.00,1462.68 L251.39,1464.10 L252.78,1465.47 L254.17,1466.80 L255.56,1468.07 L256.94,1469.31 L258.33,1470.50 L259.72,1471.65 L261.11,1472.76 L262.50,1473.83 L263.89,1474.87 L265.28,1475.87 L266.67,1476.83 L268.06,1477.76 L269.44,1478.65 L270.83,1479.51 L272.22,1480.35 L273.61,1481.15 L275.00,1481.92 L276.39,1482.66 L277.78,1483.38 L279.17,1484.07 L280.56,1484.74 L281.94,1485.38 L283.33,1485.99 L284.72,1486.59 L286.11,1487.16 L287.50,1487.71 L288.89,1488.24 L290.28,1488.75 L291.67,1489.24 L293.06,1489.71 L294.44,1490.16 L295.83,1490.60 L297.22,1491.02 L298.61,1491.42 L300.00,1491.81 L301.39,1492.18 L302.78,1492.54 L304.17,1492.88 L305.56,1493.21 L306.94,1493.53 L308.33,1493.84 L309.72,1494.13 L311.11,1494.41 L312.50,1494.68 L313.89,1494.94 L315.28,1495.19 L316.67,1495.43 L318.06,1495.66 L319.44,1495.88 L320.83,1496.09 L322.22,1496.30 L323.61,1496.49 L325.00,1496.68 L326.39,1496.86 L327.78,1497.03 L329.17,1497.20 L330.56,1497.35 L331.94,1497.51 L333.33,1497.65 L334.72,1497.79 L336.11,1497.93 L337.50,1498.06 L338.89,1498.18 L340.28,1498.30 L341.67,1498.41 L343.06,1498.52 L344.44,1498.62 L345.83,1498.72 L347.22,1498.82 L348.61,1498.91 L350.00,1499.00 L351.39,1499.08 L352.78,1499.17 L354.17,1499.24 L355.56,1499.32 L356.94,1499.39 L358.33,1499.46 L359.72,1499.52 L361.11,1499.58 L362.50,1499.64 L363.89,1499.70 L365.28,1499.76 L366.67,1499.81 L368.06,1499.86 L369.44,1499.91 L370.83,1499.95 L372.22,1500.00 L373.61,1500.04 L375.00,1500.08 L376.39,1500.12 L377.78,1500.16 L379.17,1500.19 L380.56,1500.23 L381.94,1500.26 L383.33,1500.29 L384.72,1500.32 L386.11,1500.35 L387.50,1500.38 L388.89,1500.40 L390.28,1500.43 L391.67,1500.45 L393.06,1500.48 L394.44,1500.50 L395.83,1500.52 L397.22,1500.54 L398.61,1500.56 L400.00,1500.58 L401.39,1500.59 L402.78,1500.61 L404.17,1500.63 L405.56,1500.64 L406.94,1500.66 L408.33,1500.67 L409.72,1500.69 L411.11,1500.70 L412.50,1500.71 L413.89,1500.72 L415.28,1500.74 L416.67,1500.75 L418.06,1500.76 L419.44,1500.77 L420.83,1500.78 L422.22,1500.79 L423.61,1500.79 L425.00,1500.80 L426.39,1500.81 L427.78,1500.82 L429.17,1500.83 L430.56,1500.83 L431.94,1500.84 L433.33,1500.85 L434.72,1500.85 L436.11,1500.86 L437.50,1500.87 L438.89,1500.87 L440.28,1500.88 L441.67,1500.88 L443.06,1500.89 L444.44,1500.89 L445.83,1500.89 L447.22,1500.90 L448.61,1500.90 L450.00,1500.91 L451.39,1500.91 L452.78,1500.91 L454.17,1500.92 L455.56,1500.92 L456.94,1500.92 L458.33,1500.93 L459.72,1500.93 L461.11,1500.93 L462.50,1500.94 L463.89,1500.94 L465.28,1500.94 L466.67,1500.94 L468.06,1500.94 L469.44,1500.95 L470.83,1500.95 L472.22,1500.95 L473.61,1500.95 L475.00,1500.95 L476.39,1500.96 L477.78,1500.96 L479.17,1500.96 L480.56,1500.96 L481.94,1500.96 L483.33,1500.96 L484.72,1500.97 L486.11,1500.97 L487.50,1500.97 L488.89,1500.97 L490.28,1500.97 L491.67,1500.97 L493.06,1500.97 L494.44,1500.97 L495.83,1500.97 L497.22,1500.98 L498.61,1500.98 L500.00,1500.98 L501.39,1500.98 L502.78,1500.98 L504.17,1500.98 L505.56,1500.98 L506.94,1500.98 L508.33,1500.98 L509.72,1500.98 L511.11,1500.98 L512.50,1500.98 L513.89,1500.98 L515.28,1500.98 L516.67,1500.99 L518.06,1500.99 L519.44,1500.99 L520.83,1500.99 L522.22,1500.99 L523.61,1500.99 L525.00,1500.99 L526.39,1500.99 L527.78,1500.99 L529.17,1500.99 L530.56,1500.99 L531.94,1500.99 L533.33,1500.99 L534.72,1500.99 L536.11,1500.99 L537.50,1500.99 L538.89,1500.99 L540.28,1500.99 L541.67,1500.99 L543.06,1500.99 L544.44,1500.99 L545.83,1500.99 L547.22,1500.99 L548.61,1500.99 L550.00,1500.99 L551.39,1500.99 L552.78,1500.99 L554.17,1500.99 L555.56,1500.99 L556.94,1500.99 L558.33,1500.99 L559.72,1500.99 L561.11,1500.99 L562.50,1500.99 L563.89,1501.00 L565.28,1501.00 L566.67,1501.00 L568.06,1501.00 L569.44,1501.00 L570.83,1501.00 L572.22,1501.00 L573.61,1501.00 L575.00,1501.00 L576.39,1501.00 L577.78,1501.00 L579.17,1501.00 L580.56,1501.00 L581.94,1501.00 L583.33,1501.00 L584.72,1501.00 L586.11,1501.00 L587.50,1501.00 L588.89,1501.00 L590.28,1501.00 L591.67,1501.00 L593.06,1501.00 L594.44,1501.00 L595.83,1501.00 L597.22,1501.00 L598.61,1501.00 L600.00,1501.00 L601.39,1501.00 L602.78,1501.00 L604.17,1501.00 L605.56,1501.00 L606.94,1501.00 L608.33,1501.00 L609.72,1501.00 L611.11,1501.00 L612.50,1501.00 L613.89,1501.00 L615.28,1501.00 L616.67,1501.00 L618.06,1501.00 L619.44,1501.00 L620.83,1501.00 L622.22,1501.00 L623.61,1501.00 L625.00,1501.00 L626.39,1501.00 L627.78,1501.00 L629.17,1501.00 L630.56,1501.00 L631.94,1501.00 L633.33,1501.00 L634.72,1501.00 L636.11,1501.00 L637.50,1501.00 L638.89,1501.00 L640.28,1501.00 L641.67,1501.00 L643.06,1501.00 L644.44,1501.00 L645.83,1501.00 L647.22,1501.00 L648.61,1501.00 L650.00,1501.00 L651.39,1501.00 L652.78,1501.00 L654.17,1501.00 L655.56,1501.00 L656.94,1501.00 L658.33,1501.00 L659.72,1501.00 L661.11,1501.00 L662.50,1501.00 L663.89,1501.00 L665.28,1501.00 L666.67,1501.00 L668.06,1501.00 L669.44,1501.00 L670.83,1501.00 L672.22,1501.00 L688.98,1501.00 L705.74,1501.00 L722.50,1501.00 L739.26,1501.00 L756.02,1501.00 L772.78,1501.00 L789.54,1501.00 L806.30,1501.00 L823.06,1501.00 L839.81,1501.00 L856.57,1501.00 L873.33,1501.00 L890.09,1501.00 L906.85,1501.00 L923.61,1501.00 L940.37,1501.00 L957.13,1501.00 L973.89,1501.00 L990.65,1501.00 L1007.41,1501.00 L1024.17,1501.00 L1040.93,1501.00 L1057.69,1501.00 L1074.44,1501.00 L1091.20,1501.00 L1107.96,1501.00 L1124.72,1501.00 L1141.48,1501.00 L1158.24,1501.00 L1175.00,1501.00 L1191.76,1501.00 L1208.52,1501.00 L1225.28,1501.00 L1242.04,1501.00 L1258.80,1501.00 L1275.56,1501.00 L1292.31,1501.00 L1309.07,1501.00 L1325.83,1501.00" stroke="#00ff00"/>
<path d="M116.67,868.10 L117.36,874.79 L118.06,881.47 L118.75,888.13 L119.44,894.76 L120.14,901.38 L120.83,907.97 L121.53,914.54 L122.22,921.08 L122.92,927.60 L123.61,934.09 L124.31,940.56 L125.00,947.00 L125.69,953.41 L126.39,959.78 L127.08,966.13 L127.78,972.45 L128.47,978.73 L129.17,984.99 L129.86,991.20 L130.56,997.39 L131.25,1003.53 L131.94,1009.65 L132.64,1015.72 L133.33,1021.76 L134.03,1027.76 L134.72,1033.73 L135.42,1039.65 L136.11,1045.54 L136.81,1051.38 L137.50,1057.19 L138.19,1062.95 L138.89,1068.67 L139.58,1074.35 L140.28,1079.99 L140.97,1085.59 L141.67,1091.14 L142.36,1096.65 L143.06,1102.11 L143.75,1107.54 L144.44,1112.91 L145.14,1118.25 L145.83,1123.53 L146.53,1128.78 L147.22,1133.97 L147.92,1139.12 L148.61,1144.23 L149.31,1149.29 L150.00,1154.30 L150.69,1159.27 L151.39,1164.19 L152.08,1169.06 L152.78,1173.89 L153.47,1178.67 L154.17,1183.40 L154.86,1188.09 L155.56,1192.72 L156.25,1197.32 L156.94,1201.86 L157.64,1206.36 L158.33,1210.81 L159.03,1215.21 L159.72,1219.57 L160.42,1223.88 L161.11,1228.14 L161.81,1232.35 L162.50,1236.52 L163.19,1240.64 L163.89,1244.72 L164.58,1248.74 L165.28,1252.73 L165.97,1256.66 L166.67,1260.55 L167.36,1264.39 L168.06,1268.19 L168.75,1271.94 L169.44,1275.65 L170.14,1279.31 L170.83,1282.93 L171.53,1286.50 L172.22,1290.03 L172.92,1293.51 L173.61,1296.95 L174.31,1300.34 L175.00,1303.69 L175.69,1307.00 L176.39,1310.26 L177.08,1313.48 L177.78,1316.66 L178.47,1319.79 L179.17,1322.89 L179.86,1325.94 L180.56,1328.95 L181.25,1331.92 L181.94,1334.85 L182.64,1337.73 L183.33,1340.58 L184.03,1343.39 L184.72,1346.16 L185.42,1348.88 L186.11,1351.57 L186.81,1354.22 L187.50,1356.83 L188.19,1359.41 L188.89,1361.94 L189.58,1364.44 L190.28,1366.91 L190.97,1369.33 L191.67,1371.72 L192.36,1374.07 L193.06,1376.39 L193.75,1378.67 L194.44,1380.92 L195.14,1383.13 L195.83,1385.31 L196.53,1387.46 L197.22,1389.57 L197.92,1391.64 L198.61,1393.69 L199.31,1395.70 L200.00,1397.68 L201.39,1401.55 L202.78,1405.29 L204.17,1408.92 L205.56,1412.42 L206.94,1415.81 L208.33,1419.08 L209.72,1422.25 L211.11,1425.31 L212.50,1428.27 L213.89,1431.12 L215.28,1433.88 L216.67,1436.54 L218.06,1439.10 L219.44,1441.58 L220.83,1443.97 L222.22,1446.27 L223.61,1448.49 L225.00,1450.62 L226.39,1452.68 L227.78,1454.67 L229.17,1456.58 L230.56,1458.41 L231.94,1460.18 L233.33,1461.89 L234.72,1463.52 L236.11,1465.10 L237.50,1466.61 L238.89,1468.07 L240.28,1469.47 L241.67,1470.81 L243.06,1472.10 L244.44,1473.34 L245.83,1474.54 L247.22,1475.68 L248.61,1476.78 L250.00,1477.83 L251.39,1478.84 L252.78,1479.81 L254.17,1480.74 L255.56,1481.63 L256.94,1482.48 L258.33,1483.30 L259.72,1484.08 L261.11,1484.83 L262.50,1485.55 L263.89,1486.24 L265.28,1486.90 L266.67,1487.53 L268.06,1488.14 L269.44,1488.72 L270.83,1489.27 L272.22,1489.80 L273.61,1490.31 L275.00,1490.79 L276.39,1491.26 L277.78,1491.70 L279.17,1492.12 L280.56,1492.53 L281.94,1492.91 L283.33,1493.28 L284.72,1493.63 L286.11,1493.97 L287.50,1494.29 L288.89,1494.60 L290.28,1494.89 L291.67,1495.17 L293.06,1495.44 L294.44,1495.70 L295.83,1495.94 L297.22,1496.17 L298.61,1496.39 L300.00,1496.60 L301.39,1496.80 L302.78,1497.00 L304.17,1497.18 L305.56,1497.35 L306.94,1497.52 L308.33,1497.68 L309.72,1497.83 L311.11,1497.97 L312.50,1498.11 L313.89,1498.24 L315.28,1498.37 L316.67,1498.49 L318.06,1498.60 L319.44,1498.71 L320.83,1498.81 L322.22,1498.91 L323.61,1499.00 L325.00,1499.09 L326.39,1499.17 L327.78,1499.25 L329.17,1499.33 L330.56,1499.40 L331.94,1499.47 L333.33,1499.53 L334.72,1499.60 L336.11,1499.66 L337.50,1499.71 L338.89,1499.77 L340.28,1499.82 L341.67,1499.87 L343.06,1499.91 L344.44,1499.96 L345.83,1500.00 L347.22,1500.04 L348.61,1500.08 L350.00,1500.11 L351.39,1500.15 L352.78,1500.18 L354.17,1500.21 L355.56,1500.24 L356.94,1500.27 L358.33,1500.29 L359.72,1500.32 L361.11,1500.34 L362.50,1500.36 L363.89,1500.39 L365.28,1500.41 L366.67,1500.43 L368.06,1500.44 L369.44,1500.46 L370.83,1500.48 L372.22,1500.49 L373.61,1500.51 L375.00,1500.52 L376.39,1500.54 L377.78,1500.55 L379.17,1500.56 L380.56,1500.57 L381.94,1500.59 L383.33,1500.60 L384.72,1500.61 L386.11,1500.62 L387.50,1500.63 L388.89,1500.63 L390.28,1500.64 L391.67,1500.65 L393.06,1500.66 L394.44,1500.66 L395.83,1500.67 L397.22,1500.68 L398.61,1500.68 L400.00,1500.69 L401.39,1500.69 L402.78,1500.70 L404.17,1500.70 L405.56,1500.71 L406.94,1500.71 L408.33,1500.72 L409.72,1500.72 L411.11,1500.73 L412.50,1500.73 L413.89,1500.73 L415.28,1500.74 L416.67,1500.74 L418.06,1500.74 L419.44,1500.74 L420.83,1500.75 L422.22,1500.75 L423.61,1500.75 L425.00,1500.75 L426.39,1500.76 L427.78,1500.76 L429.17,1500.76 L430.56,1500.76 L431.94,1500.76 L433.33,1500.77 L434.72,1500.77 L436.11,1500.77 L437.50,1500.77 L438.89,1500.77 L440.28,1500.77 L441.67,1500.77 L443.06,1500.78 L444.44,1500.78 L445.83,1500.78 L447.22,1500.78 L448.61,1500.78 L450.00,1500.78 L451.39,1500.78 L452.78,1500.78 L454.17,1500.78 L455.56,1500.78 L456.94,1500.78 L458.33,1500.79 L459.72,1500.79 L461.11,1500.79 L462.50,1500.79 L463.89,1500.79 L465.28,1500.79 L466.67,1500.79 L468.06,1500.79 L469.44,1500.79 L470.83,1500.79 L472.22,1500.79 L473.61,1500.79 L475.00,1500.79 L476.39,1500.79 L477.78,1500.79 L479.17,1500.79 L480.56,1500.79 L481.94,1500.79 L483.33,1500.79 L484.72,1500.79 L486.11,1500.79 L487.50,1500.79 L488.89,1500.79 L490.28,1500.79 L491.67,1500.79 L493.06,1500.80 L494.44,1500.80 L495.83,1500.80 L497.22,1500.80 L498.61,1500.80 L500.00,1500.80 L501.39,1500.80 L502.78,1500.80 L504.17,1500.80 L505.56,1500.80 L506.94,1500.80 L508.33,1500.80 L509.72,1500.80 L511.11,1500.80 L512.50,1500.80 L513.89,1500.80 L515.28,1500.80 L516.67,1500.80 L518.06,1500.80 L519.44,1500.80 L520.83,1500.80 L522.22,1500.80 L523.61,1500.80 L525.00,1500.80 L526.39,1500.80 L527.78,1500.80 L529.17,1500.80 L530.56,1500.80 L531.94,1500.80 L533.33,1500.80 L534.72,1500.80 L536.11,1500.80 L537.50,1500.80 L538.89,1500.80 L540.28,1500.80 L541.67,1500.80 L543.06,1500.80 L544.44,1500.80 L545.83,1500.80 L547.22,1500.80 L548.61,1500.80 L550.00,1500.80 L551.39,1500.80 L552.78,1500.80 L554.17,1500.80 L555.56,1500.80 L556.94,1500.80 L558.33,1500.80 L559.72,1500.80 L561.11,1500.80 L562.50,1500.80 L563.89,1500.80 L565.28,1500.80 L566.67,1500.80 L568.06,1500.80 L569.44,1500.80 L570.83,1500.80 L572.22,1500.80 L573.61,1500.80 L575.00,1500.80 L576.39,1500.80 L577.78,1500.80 L579.17,1500.80 L580.56,1500.80 L581.94,1500.80 L583.33,1500.80 L584.72,1500.80 L586.11,1500.80 L587.50,1500.80 L588.89,1500.80 L590.28,1500.80 L591.67,1500.80 L593.06,1500.80 L594.44,1500.80 L595.83,1500.80 L597.22,1500.80 L598.61,1500.80 L600.00,1500.80 L601.39,1500.80 L602.78,1500.80 L604.17,1500.80 L605.56,1500.80 L606.94,1500.80 L608.33,1500.80 L609.72,1500.80 L611.11,1500.80 L612.50,1500.80 L613.89,1500.80 L615.28,1500.80 L616.67,1500.80 L618.06,1500.80 L619.44,1500.80 L620.83,1500.80 L622.22,1500.80 L623.61,1500.80 L625.00,1500.80 L626.39,1500.80 L627.78,1500.80 L629.17,1500.80 L630.56,1500.80 L631.94,1500.80 L633.33,1500.80 L634.72,1500.80 L636.11,1500.80 L637.50,1500.80 L638.89,1500.80 L640.28,1500.80 L641.67,1500.80 L643.06,1500.80 L644.44,1500.80 L645.83,1500.80 L647.22,1500.80 L648.61,1500.80 L650.00,1500.80 L651.39,1500.80 L652.78,1500.80 L654.17,1500.80 L655.56,1500.80 L656.94,1500.80 L658.33,1500.80 L659.72,1500.80 L661.11,1500.80 L662.50,1500.80 L663.89,1500.80 L665.28,1500.80 L666.67,1500.80 L668.06,1500.80 L669.44,1500.80 L670.83,1500.80 L672.22,1500.80 L688.98,1500.80 L705.74,1500.80 L722.50,1500.80 L739.26,1500.80 L756.02,1500.80 L772.78,1500.80 L789.54,1500.80 L806.30,1500.80 L823.06,1500.80 L839.81,1500.80 L856.57,1500.80 L873.33,1500.80 L890.09,1500.80 L906.85,1500.80 L923.61,1500.80 L940.37,1500.80 L957.13,1500.80 L973.89,1500.80 L990.65,1500.80 L1007.41,1500.80 L1024.17,1500.80 L1040.93,1500.80 L1057.69,1500.80 L1074.44,1500.80 L1091.20,1500.80 L1107.96,1500.80 L1124.72,1500.80 L1141.48,1500.80 L1158.24,1500.80 L1175.00,1500.80 L1191.76,1500.80 L1208.52,1500.80 L1225.28,1500.80 L1242.04,1500.80 L1258.80,1500.80 L1275.56,1500.80 L1292.31,1500.80 L1309.07,1500.80 L1325.83,1500.80" stroke="#0000ff"/>
<path d="M116.67,868.10 L117.36,876.45 L118.06,884.72 L118.75,892.91 L119.44,901.01 L120.14,909.03 L120.83,916.96 L121.53,924.82 L122.22,932.60 L122.92,940.30 L123.61,947.92 L124.31,955.46 L125.00,962.92 L125.69,970.31 L126.39,977.62 L127.08,984.86 L127.78,992.02 L128.47,999.11 L129.17,1006.12 L129.86,1013.06 L130.56,1019.93 L131.25,1026.73 L131.94,1033.45 L132.64,1040.11 L133.33,1046.69 L134.03,1053.21 L134.72,1059.66 L135.42,1066.04 L136.11,1072.35 L136.81,1078.59 L137.50,1084.77 L138.19,1090.88 L138.89,1096.92 L139.58,1102.90 L140.28,1108.81 L140.97,1114.66 L141.67,1120.45 L142.36,1126.17 L143.06,1131.83 L143.75,1137.42 L144.44,1142.96 L145.14,1148.43 L145.83,1153.84 L146.53,1159.19 L147.22,1164.48 L147.92,1169.71 L148.61,1174.88 L149.31,1179.99 L150.00,1185.05 L150.69,1190.04 L151.39,1194.98 L152.08,1199.86 L152.78,1204.68 L153.47,1209.44 L154.17,1214.15 L154.86,1218.81 L155.56,1223.41 L156.25,1227.95 L156.94,1232.44 L157.64,1236.87 L158.33,1241.25 L159.03,1245.58 L159.72,1249.85 L160.42,1254.07 L161.11,1258.24 L161.81,1262.36 L162.50,1266.42 L163.19,1270.44 L163.89,1274.40 L164.58,1278.31 L165.28,1282.17 L165.97,1285.99 L166.67,1289.75 L167.36,1293.46 L168.06,1297.13 L168.75,1300.75 L169.44,1304.32 L170.14,1307.84 L170.83,1311.31 L171.53,1314.74 L172.22,1318.12 L172.92,1321.46 L173.61,1324.75 L174.31,1327.99 L175.00,1331.19 L175.69,1334.35 L176.39,1337.46 L177.08,1340.53 L177.78,1343.55 L178.47,1346.53 L179.17,1349.47 L179.86,1352.36 L180.56,1355.22 L181.25,1358.03 L181.94,1360.80 L182.64,1363.53 L183.33,1366.21 L184.03,1368.86 L184.72,1371.47 L185.42,1374.04 L186.11,1376.57 L186.81,1379.06 L187.50,1381.51 L188.19,1383.93 L188.89,1386.30 L189.58,1388.64 L190.28,1390.94 L190.97,1393.21 L191.67,1395.44 L192.36,1397.63 L193.06,1399.79 L193.75,1401.91 L194.44,1404.00 L195.14,1406.05 L195.83,1408.07 L196.53,1410.06 L197.22,1412.01 L197.92,1413.93 L198.61,1415.81 L199.31,1417.67 L200.00,1419.49 L201.39,1423.04 L202.78,1426.46 L204.17,1429.77 L205.56,1432.95 L206.94,1436.02 L208.33,1438.98 L209.72,1441.83 L211.11,1444.57 L212.50,1447.21 L213.89,1449.74 L215.28,1452.18 L216.67,1454.52 L218.06,1456.77 L219.44,1458.93 L220.83,1461.00 L222.22,1462.98 L223.61,1464.88 L225.00,1466.70 L226.39,1468.44 L227.78,1470.10 L229.17,1471.70 L230.56,1473.22 L231.94,1474.67 L233.33,1476.06 L234.72,1477.38 L236.11,1478.64 L237.50,1479.84 L238.89,1480.98 L240.28,1482.07 L241.67,1483.11 L243.06,1484.09 L244.44,1485.03 L245.83,1485.91 L247.22,1486.75 L248.61,1487.55 L250.00,1488.31 L251.39,1489.03 L252.78,1489.70 L254.17,1490.34 L255.56,1490.95 L256.94,1491.52 L258.33,1492.06 L259.72,1492.57 L261.11,1493.05 L262.50,1493.51 L263.89,1493.93 L265.28,1494.33 L266.67,1494.71 L268.06,1495.06 L269.44,1495.40 L270.83,1495.71 L272.22,1496.00 L273.61,1496.27 L275.00,1496.53 L276.39,1496.77 L277.78,1497.00 L279.17,1497.20 L280.56,1497.40 L281.94,1497.58 L283.33,1497.75 L284.72,1497.91 L286.11,1498.06 L287.50,1498.20 L288.89,1498.32 L290.28,1498.44 L291.67,1498.55 L293.06,1498.65 L294.44,1498.75 L295.83,1498.83 L297.22,1498.91 L298.61,1498.99 L300.00,1499.06 L301.39,1499.12 L302.78,1499.18 L304.17,1499.23 L305.56,1499.28 L306.94,1499.33 L308.33,1499.37 L309.72,1499.41 L311.11,1499.45 L312.50,1499.48 L313.89,1499.51 L315.28,1499.54 L316.67,1499.56 L318.06,1499.58 L319.44,1499.60 L320.83,1499.62 L322.22,1499.64 L323.61,1499.66 L325.00,1499.67 L326.39,1499.68 L327.78,1499.69 L329.17,1499.70 L330.56,1499.71 L331.94,1499.72 L333.33,1499.73 L334.72,1499.74 L336.11,1499.74 L337.50,1499.75 L338.89,1499.76 L340.28,1499.76 L341.67,1499.76 L343.06,1499.77 L344.44,1499.77 L345.83,1499.78 L347.22,1499.78 L348.61,1499.78 L350.00,1499.78 L351.39,1499.78 L352.78,1499.79 L354.17,1499.79 L355.56,1499.79 L356.94,1499.79 L358.33,1499.79 L359.72,1499.79 L361.11,1499.79 L362.50,1499.79 L363.89,1499.80 L365.28,1499.80 L366.67,1499.80 L368.06,1499.80 L369.44,1499.80 L370.83,1499.80 L372.22,1499.80 L373.61,1499.80 L375.00,1499.80 L376.39,1499.80 L377.78,1499.80 L379.17,1499.80 L380.56,1499.80 L381.94,1499.80 L383.33,1499.80 L384.72,1499.80 L386.11,1499.80 L387.50,1499.80 L388.89,1499.80 L390.28,1499.80 L391.67,1499.80 L393.06,1499.80 L394.44,1499.80 L395.83,1499.80 L397.22,1499.80 L398.61,1499.80 L400.00,1499.80 L401.39,1499.80 L402.78,1499.80 L404.17,1499.80 L405.56,1499.80 L406.94,1499.80 L408.33,1499.80 L409.72,1499.80 L411.11,1499.80 L412.50,1499.80 L413.89,1499.80 L415.28,1499.80 L416.67,1499.80 L418.06,1499.80 L419.44,1499.80 L420.83,1499.80 L422.22,1499.80 L423.61,1499.80 L425.00,1499.80 L426.39,1499.80 L427.78,1499.80 L429.17,1499.80 L430.56,1499.80 L431.94,1499.80 L433.33,1499.80 L434.72,1499.80 L436.11,1499.80 L437.50,1499.80 L438.89,1499.80 L440.28,1499.80 L441.67,1499.80 L443.06,1499.80 L444.44,1499.80 L445.83,1499.80 L447.22,1499.80 L448.61,1499.80 L450.00,1499.80 L451.39,1499.80 L452.78,1499.80 L454.17,1499.80 L455.56,1499.80 L456.94,1499.80 L458.33,1499.80 L459.72,1499.80 L461.11,1499.80 L462.50,1499.80 L463.89,1499.80 L465.28,1499.80 L466.67,1499.80 L468.06,1499.80 L469.44,1499.80 L470.83,1499.80 L472.22,1499.80 L473.61,1499.80 L475.00,1499.80 L476.39,1499.80 L477.78,1499.80 L479.17,1499.80 L480.56,1499.80 L481.94,1499.80 L483.33,1499.80 L484.72,1499.80 L486.11,1499.80 L487.50,1499.80 L488.89,1499.80 L490.28,1499.80 L491.67,1499.80 L493.06,1499.80 L494.44,1499.80 L495.83,1499.80 L497.22,1499.80 L498.61,1499.80 L500.00,1499.80 L501.39,1499.80 L502.78,1499.80 L504.17,1499.80 L505.56,1499.80 L506.94,1499.80 L508.33,1499.80 L509.72,1499.80 L511.11,1499.80 L512.50,1499.80 L513.89,1499.80 L515.28,1499.80 L516.67,1499.80 L518.06,1499.80 L519.44,1499.80 L520.83,1499.80 L522.22,1499.80 L523.61,1499.80 L525.00,1499.80 L526.39,1499.80 L527.78,1499.80 L529.17,1499.80 L530.56,1499.80 L531.94,1499.80 L533.33,1499.80 L534.72,1499.80 L536.11,1499.80 L537.50,1499.80 L538.89,1499.80 L540.28,1499.80 L541.67,1499.80 L543.06,1499.80 L544.44,1499.80 L545.83,1499.80 L547.22,1499.80 L548.61,1499.80 L550.00,1499.80 L551.39,1499.80 L552.78,1499.80 L554.17,1499.80 L555.56,1499.80 L556.94,1499.80 L558.33,1499.80 L559.72,1499.80 L561.11,1499.80 L562.50,1499.80 L563.89,1499.80 L565.28,1499.80 L566.67,1499.80 L568.06,1499.80 L569.44,1499.80 L570.83,1499.80 L572.22,1499.80 L573.61,1499.80 L575.00,1499.80 L576.39,1499.80 L577.78,1499.80 L579.17,1499.80 L580.56,1499.80 L581.94,1499.80 L583.33,1499.80 L584.72,1499.80 L586.11,1499.80 L587.50,1499.80 L588.89,1499.80 L590.28,1499.80 L591.67,1499.80 L593.06,1499.80 L594.44,1499.80 L595.83,1499.80 L597.22,1499.80 L598.61,1499.80 L600.00,1499.80 L601.39,1499.80 L602.78,1499.80 L604.17,1499.80 L605.56,1499.80 L606.94,1499.80 L608.33,1499.80 L609.72,1499.80 L611.11,1499.80 L612.50,1499.80 L613.89,1499.80 L615.28,1499.80 L616.67,1499.80 L618.06,1499.80 L619.44,1499.80 L620.83,1499.80 L622.22,1499.80 L623.61,1499.80 L625.00,1499.80 L626.39,1499.80 L627.78,1499.80 L629.17,1499.80 L630.56,1499.80 L631.94,1499.80 L633.33,1499.80 L634.72,1499.80 L636.11,1499.80 L637.50,1499.80 L638.89,1499.80 L640.28,1499.80 L641.67,1499.80 L643.06,1499.80 L644.44,1499.80 L645.83,1499.80 L647.22,1499.80 L648.61,1499.80 L650.00,1499.80 L651.39,1499.80 L652.78,1499.80 L654.17,1499.80 L655.56,1499.80 L656.94,1499.80 L658.33,1499.80 L659.72,1499.80 L661.11,1499.80 L662.50,1499.80 L663.89,1499.80 L665.28,1499.80 L666.67,1499.80 L668.06,1499.80 L669.44,1499.80 L670.83,1499.80 L672.22,1499.80 L688.98,1499.80 L705.74,1499.80 L722.50,1499.80 L739.26,1499.80 L756.02,1499.80 L772.78,1499.80 L789.54,1499.80 L806.30,1499.80 L823.06,1499.80 L839.81,1499.80 L856.57,1499.80 L873.33,1499.80 L890.09,1499.80 L906.85,1499.80 L923.61,1499.80 L940.37,1499.80 L957.13,1499.80 L973.89,1499.80 L990.65,1499.80 L1007.41,1499.80 L1024.17,1499.80 L1040.93,1499.80 L1057.69,1499.80 L1074.44,1499.80 L1091.20,1499.80 L1107.96,1499.80 L1124.72,1499.80 L1141.48,1499.80 L1158.24,1499.80 L1175.00,1499.80 L1191.76,1499.80 L1208.52,1499.80 L1225.28,1499.80 L1242.04,1499.80 L1258.80,1499.80 L1275.56,1499.80 L1292.31,1499.80 L1309.07,1499.80 L1325.83,1499.80" stroke="#ff00ff"/>
</g>
<text transform="translate(3.94,838.00) scale(1.0034,1)" font-size="40.96" font-family='"Liberation Sans", sans-serif' font-weight="bold" fill="#000">(b)</text>
<line x1="227.4" y1="524" x2="178.3" y2="627.2" stroke="#000" stroke-width="3.0"/>
<polygon points="172.3,641.5 176.5,619.8 178.3,627.2 183,630.8" fill="#000"/>
<line x1="196.9" y1="1361.5" x2="141.2" y2="1463.8" stroke="#000" stroke-width="3.0"/>
<polygon points="134.5,1477.3 139.5,1456.5 141.2,1463.8 145.6,1468.7" fill="#000"/>
<rect x="142.40" y="58.90" width="590.80" height="58.60" fill="#fff"/>
<rect x="141.70" y="58.00" width="592.20" height="1.80" fill="#222"/>
<rect x="141.70" y="116.60" width="592.20" height="1.80" fill="#222"/>
<rect x="141.70" y="58.90" width="1.40" height="58.60" fill="#555"/>
<rect x="732.50" y="58.90" width="1.40" height="58.60" fill="#555"/>
<line x1="145.3" y1="88.2" x2="178.6" y2="88.2" stroke="#000" stroke-width="2.8"/>
<text transform="translate(179.95,104.90) scale(0.4962,1)" font-size="44.14" font-family='"Liberation Sans", sans-serif' fill="#000">Pr = 1.0</text>
<line x1="263.5" y1="88.2" x2="295.7" y2="88.2" stroke="#f00" stroke-width="2.8"/>
<text transform="translate(297.75,104.90) scale(0.4962,1)" font-size="44.14" font-family='"Liberation Sans", sans-serif' fill="#000">Pr = 2.0</text>
<line x1="381.5" y1="88.2" x2="414.2" y2="88.2" stroke="#0f0" stroke-width="2.8"/>
<text transform="translate(416.55,104.90) scale(0.4955,1)" font-size="44.14" font-family='"Liberation Sans", sans-serif' fill="#000">Pr = 3.0</text>
<line x1="498.8" y1="88.2" x2="531.9" y2="88.2" stroke="#00f" stroke-width="2.8"/>
<text transform="translate(534.24,104.90) scale(0.4988,1)" font-size="44.14" font-family='"Liberation Sans", sans-serif' fill="#000">Pr = 4.0</text>
<line x1="616.2" y1="88.2" x2="648.9" y2="88.2" stroke="#f0f" stroke-width="2.8"/>
<text transform="translate(651.65,104.90) scale(0.4969,1)" font-size="44.14" font-family='"Liberation Sans", sans-serif' fill="#000">Pr = 5.0</text>
<rect x="132.70" y="859.80" width="590.00" height="58.00" fill="#fff"/>
<rect x="132.00" y="858.90" width="591.40" height="1.80" fill="#222"/>
<rect x="132.00" y="916.90" width="591.40" height="1.80" fill="#222"/>
<rect x="132.00" y="859.80" width="1.40" height="58.00" fill="#555"/>
<rect x="722.00" y="859.80" width="1.40" height="58.00" fill="#555"/>
<line x1="135.5" y1="888.8" x2="168.4" y2="888.8" stroke="#000" stroke-width="2.8"/>
<text transform="translate(170.54,905.40) scale(0.4966,1)" font-size="44.29" font-family='"Liberation Sans", sans-serif' fill="#000">Pr = 1.0</text>
<line x1="253.4" y1="888.8" x2="285.6" y2="888.8" stroke="#f00" stroke-width="2.8"/>
<text transform="translate(324.76,902.80) scale(0.4881,1)" font-size="31.86" font-family='"Liberation Sans", sans-serif' fill="#000">Pr = 2.0</text>
<line x1="394" y1="888.8" x2="404.6" y2="888.8" stroke="#0f0" stroke-width="2.8"/>
<text transform="translate(406.35,905.40) scale(0.4953,1)" font-size="44.29" font-family='"Liberation Sans", sans-serif' fill="#000">Pr = 3.0</text>
<line x1="489.2" y1="888.8" x2="521.7" y2="888.8" stroke="#00f" stroke-width="2.8"/>
<text transform="translate(523.64,905.40) scale(0.4966,1)" font-size="44.29" font-family='"Liberation Sans", sans-serif' fill="#000">Pr = 4.0</text>
<line x1="606" y1="888.8" x2="638.9" y2="888.8" stroke="#f0f" stroke-width="2.8"/>
<text transform="translate(642.22,905.40) scale(0.5012,1)" font-size="44.29" font-family='"Liberation Sans", sans-serif' fill="#000">Pr = 5.0</text>
<rect x="757.50" y="51.30" width="186.00" height="238.60" fill="#fff"/>
<rect x="756.70" y="50.30" width="187.60" height="2.00" fill="#555"/>
<rect x="756.70" y="288.90" width="187.60" height="2.80" fill="#555"/>
<rect x="756.70" y="51.30" width="1.60" height="238.60" fill="#6a6a6a"/>
<rect x="942.80" y="51.30" width="1.40" height="238.60" fill="#6a6a6a"/>
<rect x="770.60" y="855.80" width="174.00" height="246.10" fill="#fff"/>
<rect x="769.80" y="854.80" width="175.60" height="2.00" fill="#555"/>
<rect x="769.80" y="1100.90" width="175.60" height="2.80" fill="#555"/>
<rect x="769.80" y="855.80" width="1.60" height="246.10" fill="#6a6a6a"/>
<rect x="943.90" y="855.80" width="1.40" height="246.10" fill="#6a6a6a"/>
<text transform="translate(799.50,101.60) scale(0.4978,1)" font-size="44.14" font-family='"Liberation Sans", sans-serif' fill="#000">CuO-water</text>
<text transform="translate(763.04,157.67) scale(0.5998,1)" font-size="42.50" font-family='"Liberation Serif", serif' font-style="italic" fill="#000" stroke="#fff" stroke-width="0.6">α</text>
<text transform="translate(783.69,157.50) scale(0.4952,1)" font-size="45.00" font-family='"Liberation Sans", sans-serif' fill="#000">= 0.7 ,</text>
<text transform="translate(846.98,156.08) scale(0.6075,1)" font-size="41.96" font-family='"Liberation Serif", serif' font-style="italic" fill="#000" stroke="#fff" stroke-width="0.6">β</text>
<text transform="translate(865.47,157.50) scale(0.5009,1)" font-size="45.00" font-family='"Liberation Sans", sans-serif' fill="#000">= 3.0</text>
<text transform="translate(762.26,212.33) scale(0.7476,1)" font-size="42.67" font-family='"Liberation Serif", serif' font-style="italic" fill="#000" stroke="#fff" stroke-width="0.6">γ</text>
<text transform="translate(780.89,212.50) scale(0.5007,1)" font-size="44.29" font-family='"Liberation Sans", sans-serif' fill="#000">= 1.0 ,</text>
<text transform="translate(844.64,212.70) scale(0.5860,1)" font-size="43.55" font-family='"Liberation Serif", serif' font-style="italic" fill="#000" stroke="#fff" stroke-width="0.6">λ</text>
<text transform="translate(862.38,212.50) scale(0.5038,1)" font-size="44.29" font-family='"Liberation Sans", sans-serif' fill="#000">= 2.0</text>
<text transform="translate(763.29,267.35) scale(0.5795,1)" font-size="43.96" font-family='"Liberation Serif", serif' font-style="italic" fill="#000" stroke="#fff" stroke-width="0.6">ϕ</text>
<text transform="translate(782.28,267.30) scale(0.5118,1)" font-size="43.57" font-family='"Liberation Sans", sans-serif' fill="#000">= 0.1 , A = 5.0</text>
<text transform="translate(807.20,905.80) scale(0.4876,1)" font-size="44.93" font-family='"Liberation Sans", sans-serif' fill="#000">Ag-water</text>
<text transform="translate(776.24,961.77) scale(0.5968,1)" font-size="42.71" font-family='"Liberation Serif", serif' font-style="italic" fill="#000" stroke="#fff" stroke-width="0.6">α</text>
<text transform="translate(796.79,961.50) scale(0.4968,1)" font-size="44.86" font-family='"Liberation Sans", sans-serif' fill="#000">= 0.7 ,</text>
<text transform="translate(865.69,960.18) scale(0.6122,1)" font-size="41.96" font-family='"Liberation Serif", serif' font-style="italic" fill="#000" stroke="#fff" stroke-width="0.6">β</text>
<text transform="translate(884.71,961.50) scale(0.4881,1)" font-size="44.86" font-family='"Liberation Sans", sans-serif' fill="#000">= 3.0</text>
<text transform="translate(775.86,1016.57) scale(0.7349,1)" font-size="43.41" font-family='"Liberation Serif", serif' font-style="italic" fill="#000" stroke="#fff" stroke-width="0.6">γ</text>
<text transform="translate(794.00,1016.00) scale(0.5055,1)" font-size="43.71" font-family='"Liberation Sans", sans-serif' fill="#000">= 1.0 ,</text>
<text transform="translate(863.71,1016.60) scale(0.5649,1)" font-size="43.55" font-family='"Liberation Serif", serif' font-style="italic" fill="#000" stroke="#fff" stroke-width="0.6">λ</text>
<text transform="translate(881.09,1016.00) scale(0.5061,1)" font-size="43.71" font-family='"Liberation Sans", sans-serif' fill="#000">= 2.0</text>
<text transform="translate(776.91,1071.09) scale(0.5747,1)" font-size="42.86" font-family='"Liberation Serif", serif' font-style="italic" fill="#000" stroke="#fff" stroke-width="0.6">ϕ</text>
<text transform="translate(795.38,1071.30) scale(0.5111,1)" font-size="43.86" font-family='"Liberation Sans", sans-serif' fill="#000">= 0.2 , A = 8.0</text>
<path transform="translate(0,0)" d="M512.8,762.4 C512.9,758.5 513.7,755.4 515.3,755.3 C516.8,755.2 516.9,757 516.6,759.5 L514.6,777.4 M516.6,759.5 C517.7,756.8 519.6,755.3 522,755.3 C524.3,755.3 524.9,757.6 524.5,760.6 L520.7,788.4" fill="none" stroke="#000" stroke-width="1.9" stroke-linecap="round"/>
<path transform="translate(0,810.6)" d="M512.8,762.4 C512.9,758.5 513.7,755.4 515.3,755.3 C516.8,755.2 516.9,757 516.6,759.5 L514.6,777.4 M516.6,759.5 C517.7,756.8 519.6,755.3 522,755.3 C524.3,755.3 524.9,757.6 524.5,760.6 L520.7,788.4" fill="none" stroke="#000" stroke-width="1.9" stroke-linecap="round"/>
<text transform="translate(54.30,406.55) rotate(-90) scale(1,0.5350)" font-size="54.99" fill="#000" stroke="#fff" stroke-width="1.1"><tspan font-family='"Liberation Serif", serif' font-style="italic">θ</tspan><tspan font-family='"Liberation Serif", serif'>(</tspan><tspan font-family='"Liberation Serif", serif' font-style="italic">η</tspan><tspan font-family='"Liberation Serif", serif'>)</tspan></text>
<text transform="translate(54.30,1217.26) rotate(-90) scale(1,0.5338)" font-size="55.11" fill="#000" stroke="#fff" stroke-width="1.1"><tspan font-family='"Liberation Serif", serif' font-style="italic">θ</tspan><tspan font-family='"Liberation Serif", serif'>(</tspan><tspan font-family='"Liberation Serif", serif' font-style="italic">η</tspan><tspan font-family='"Liberation Serif", serif'>)</tspan></text>
</svg></body></html>
